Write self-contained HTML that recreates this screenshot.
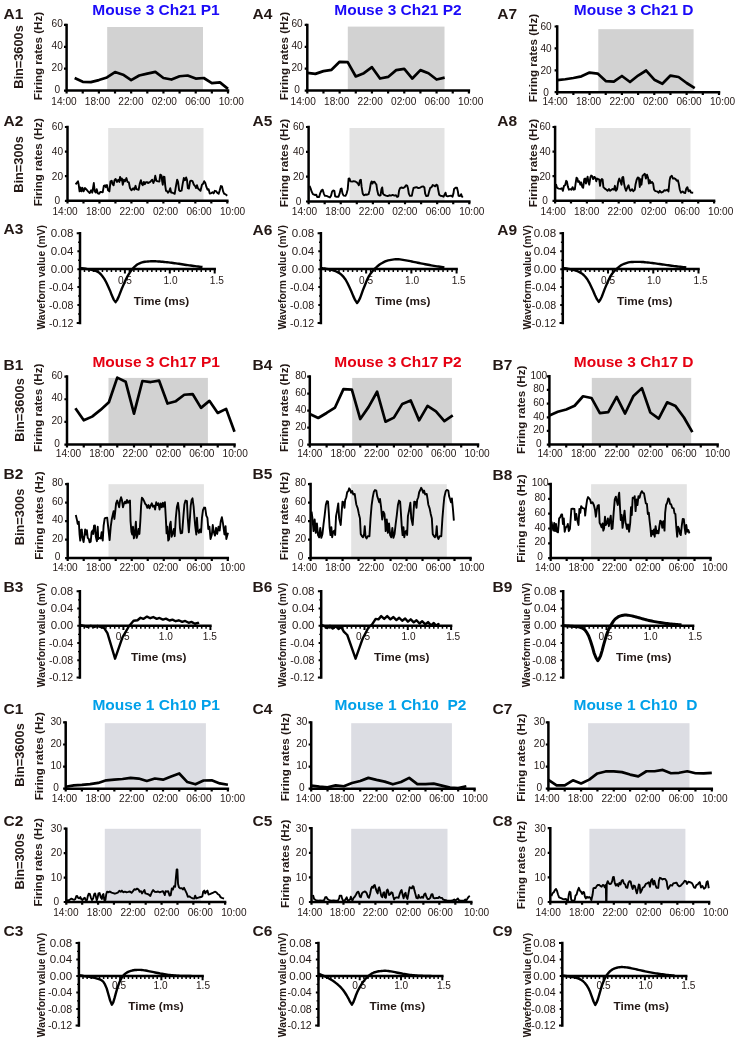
<!DOCTYPE html>
<html><head><meta charset="utf-8"><title>Figure</title>
<style>
html,body{margin:0;padding:0;background:#fff;}
body{width:737px;height:1041px;overflow:hidden;font-family:"Liberation Sans",sans-serif;}
svg{display:block;will-change:transform;font-family:"Liberation Sans",sans-serif;}
.tk{font-size:10.1px;fill:#231815;}
.yl{font-size:11.6px;font-weight:bold;fill:#231815;}
.wl{font-size:10.3px;font-weight:bold;fill:#231815;}
.tm{font-size:11.8px;font-weight:bold;fill:#231815;}
.tw{font-size:10.7px;fill:#231815;}
.bin{font-size:12.8px;font-weight:bold;fill:#231815;}
.tag{font-size:15.5px;font-weight:bold;fill:#231815;}
.ttl{font-size:15.5px;font-weight:bold;}
</style></head><body>
<svg width="737" height="1041" viewBox="0 0 737 1041">
<rect width="737" height="1041" fill="#fff"/>
<rect x="107.2" y="27" width="95.8" height="63.6" fill="#d2d2d2"/>
<path d="M66.6 24.9 V90.6 H228" fill="none" stroke="#000" stroke-width="2.5" stroke-linecap="square"/>
<text x="57.2" y="92.9" text-anchor="middle" class="tk">0</text>
<text x="57.2" y="71" text-anchor="middle" class="tk">20</text>
<text x="57.2" y="49.1" text-anchor="middle" class="tk">40</text>
<text x="57.2" y="27.2" text-anchor="middle" class="tk">60</text>
<path d="M66.6 90.6h-2.6M66.6 68.7h-2.6M66.6 46.8h-2.6M66.6 24.9h-2.6M66.6 90.6v2.8M82.74 90.6v2.8M98.88 90.6v2.8M115.02 90.6v2.8M131.16 90.6v2.8M147.3 90.6v2.8M163.44 90.6v2.8M179.58 90.6v2.8M195.72 90.6v2.8M211.86 90.6v2.8M228 90.6v2.8" fill="none" stroke="#000" stroke-width="2.2"/>
<text x="51.35" y="105.3" class="tk">14:00</text>
<text x="84.81" y="105.3" class="tk">18:00</text>
<text x="118.27" y="105.3" class="tk">22:00</text>
<text x="151.73" y="105.3" class="tk">02:00</text>
<text x="185.19" y="105.3" class="tk">06:00</text>
<text x="218.65" y="105.3" class="tk">10:00</text>
<polyline points="74.67,78.01 82.74,81.84 90.81,82.17 98.88,80.09 106.95,77.46 115.02,72.09 123.09,74.72 131.16,80.09 139.23,75.49 147.3,73.63 155.37,71.88 163.44,78.01 171.51,79.54 179.58,76.26 187.65,75.49 195.72,78.55 203.79,78.01 211.86,83.15 219.93,82.39 228,88.85" fill="none" stroke="#000" stroke-width="2.7" stroke-linejoin="round" stroke-linecap="butt"/>
<text transform="translate(41.8 56) rotate(-90)" text-anchor="middle" class="yl">Firing rates (Hz)</text>
<text transform="translate(22.5 57) rotate(-90)" text-anchor="middle" class="bin">Bin=3600s</text>
<text x="3.6" y="18.8" class="tag">A1</text>
<text x="156" y="15.3" text-anchor="middle" class="ttl" fill="#1b0af8" xml:space="preserve" style="white-space:pre">Mouse 3 Ch21 P1</text>
<rect x="347.8" y="26.6" width="96.7" height="64" fill="#d2d2d2"/>
<path d="M307.3 24.9 V90.6 H468.9" fill="none" stroke="#000" stroke-width="2.5" stroke-linecap="square"/>
<text x="297" y="92.9" text-anchor="middle" class="tk">0</text>
<text x="297" y="71" text-anchor="middle" class="tk">20</text>
<text x="297" y="49.1" text-anchor="middle" class="tk">40</text>
<text x="297" y="27.2" text-anchor="middle" class="tk">60</text>
<path d="M307.3 90.6h-2.6M307.3 68.7h-2.6M307.3 46.8h-2.6M307.3 24.9h-2.6M307.3 90.6v2.8M323.46 90.6v2.8M339.62 90.6v2.8M355.78 90.6v2.8M371.94 90.6v2.8M388.1 90.6v2.8M404.26 90.6v2.8M420.42 90.6v2.8M436.58 90.6v2.8M452.74 90.6v2.8M468.9 90.6v2.8" fill="none" stroke="#000" stroke-width="2.2"/>
<text x="290.55" y="105.3" class="tk">14:00</text>
<text x="324.05" y="105.3" class="tk">18:00</text>
<text x="357.55" y="105.3" class="tk">22:00</text>
<text x="391.05" y="105.3" class="tk">02:00</text>
<text x="424.55" y="105.3" class="tk">06:00</text>
<text x="458.05" y="105.3" class="tk">10:00</text>
<polyline points="307.3,72.86 315.38,73.85 323.46,71.11 331.54,69.8 339.62,61.8 347.7,62.13 355.78,76.47 363.86,73.19 371.94,67.17 380.02,78.55 388.1,76.91 396.18,70.12 404.26,68.81 412.34,78.55 420.42,70.12 428.5,73.19 436.58,79.54 444.66,77.57" fill="none" stroke="#000" stroke-width="2.7" stroke-linejoin="round" stroke-linecap="butt"/>
<text transform="translate(288.2 56) rotate(-90)" text-anchor="middle" class="yl">Firing rates (Hz)</text>
<text x="252.5" y="18.8" class="tag">A4</text>
<text x="398" y="14.7" text-anchor="middle" class="ttl" fill="#1b0af8" xml:space="preserve" style="white-space:pre">Mouse 3 Ch21 P2</text>
<rect x="598.3" y="29.2" width="95.3" height="63" fill="#d2d2d2"/>
<path d="M557.2 26.5 V92.2 H719" fill="none" stroke="#000" stroke-width="2.5" stroke-linecap="square"/>
<text x="546.1" y="95.5" text-anchor="middle" class="tk">0</text>
<text x="546.1" y="73.6" text-anchor="middle" class="tk">20</text>
<text x="546.1" y="51.7" text-anchor="middle" class="tk">40</text>
<text x="546.1" y="29.8" text-anchor="middle" class="tk">60</text>
<path d="M557.2 92.2h-2.6M557.2 70.3h-2.6M557.2 48.4h-2.6M557.2 26.5h-2.6M557.2 92.2v2.8M573.38 92.2v2.8M589.56 92.2v2.8M605.74 92.2v2.8M621.92 92.2v2.8M638.1 92.2v2.8M654.28 92.2v2.8M670.46 92.2v2.8M686.64 92.2v2.8M702.82 92.2v2.8M719 92.2v2.8" fill="none" stroke="#000" stroke-width="2.2"/>
<text x="542.45" y="105.3" class="tk">14:00</text>
<text x="575.95" y="105.3" class="tk">18:00</text>
<text x="609.45" y="105.3" class="tk">22:00</text>
<text x="642.95" y="105.3" class="tk">02:00</text>
<text x="676.45" y="105.3" class="tk">06:00</text>
<text x="709.95" y="105.3" class="tk">10:00</text>
<polyline points="557.2,80.05 565.29,79.28 573.38,77.97 581.47,76.32 589.56,72.6 597.65,73.59 605.74,81.03 613.83,81.69 621.92,75.99 630.01,82.02 638.1,75.56 646.19,70.52 654.28,79.72 662.37,83.77 670.46,75.56 678.55,76.98 686.64,83 694.73,88.15" fill="none" stroke="#000" stroke-width="2.7" stroke-linejoin="round" stroke-linecap="butt"/>
<text transform="translate(537 58) rotate(-90)" text-anchor="middle" class="yl">Firing rates (Hz)</text>
<text x="497.2" y="18.8" class="tag">A7</text>
<text x="633.7" y="14.7" text-anchor="middle" class="ttl" fill="#1b0af8" xml:space="preserve" style="white-space:pre">Mouse 3 Ch21 D</text>
<rect x="108.2" y="128" width="95.3" height="72.8" fill="#e3e3e3"/>
<path d="M67.5 127 V200.8 H227.3" fill="none" stroke="#000" stroke-width="2.5" stroke-linecap="square"/>
<text x="57.4" y="204.1" text-anchor="middle" class="tk">0</text>
<text x="57.4" y="179.5" text-anchor="middle" class="tk">20</text>
<text x="57.4" y="154.9" text-anchor="middle" class="tk">40</text>
<text x="57.4" y="130.3" text-anchor="middle" class="tk">60</text>
<path d="M67.5 200.8h-2.6M67.5 176.2h-2.6M67.5 151.6h-2.6M67.5 127h-2.6M67.5 200.8v2.8M83.48 200.8v2.8M99.46 200.8v2.8M115.44 200.8v2.8M131.42 200.8v2.8M147.4 200.8v2.8M163.38 200.8v2.8M179.36 200.8v2.8M195.34 200.8v2.8M211.32 200.8v2.8M227.3 200.8v2.8" fill="none" stroke="#000" stroke-width="2.2"/>
<text x="52.45" y="214.6" class="tk">14:00</text>
<text x="85.95" y="214.6" class="tk">18:00</text>
<text x="119.45" y="214.6" class="tk">22:00</text>
<text x="152.95" y="214.6" class="tk">02:00</text>
<text x="186.45" y="214.6" class="tk">06:00</text>
<text x="219.95" y="214.6" class="tk">10:00</text>
<polyline points="75.57,184.37 78.01,181.36 78.79,185.26 79.57,191.38 80.46,187.48 81.35,191.38 82.46,187.82 83.58,191.38 84.91,188.04 86.36,189.49 88.03,191.38 89.7,193.05 91.14,190.27 92.26,192.71 93.81,183.03 94.7,191.38 95.82,192.49 96.71,189.15 97.82,193.38 99.15,193.83 100.27,191.93 102.71,192.27 103.83,185.82 105.05,185.26 105.83,187.15 106.94,185.04 108.05,190.27 109.39,191.38 110.5,181.36 111.73,180.81 112.5,184.15 113.62,185.26 114.51,180.25 115.62,178.92 116.96,181.92 118.29,179.7 119.4,181.92 120.07,176.91 121.18,180.25 121.96,178.58 122.74,184.7 123.96,179.7 124.97,181.36 126.41,178.03 127.53,181.92 128.86,182.48 129.97,188.04 131.42,190.27 133.09,188.26 134.2,189.71 135.54,185.82 136.43,189.15 138.65,189.71 139.76,183.59 140.88,180.25 141.99,184.15 142.77,185.26 143.88,181.92 144.77,184.15 145.88,182.26 147.55,182.26 148,183.03 150.23,181.92 152.23,179.7 153.34,183.03 154.45,180.25 155.23,175.8 156.34,180.81 158.01,181.36 159.35,181.59 160.24,174.69 161.35,175.25 162.24,181.92 162.8,184.7 163.58,176.69 164.47,176.91 165.25,185.82 166.02,190.82 167.14,191.16 168.03,192.71 169.14,191.38 170.25,188.26 171.14,192.49 172.7,192.71 174.7,193.83 175.82,186.93 177.15,179.7 178.04,181.92 179.15,190.27 180.27,191.16 181.6,190.49 182.71,183.59 183.83,178.03 184.94,180.25 186.16,177.47 186.94,179.7 187.83,188.04 188.94,188.6 190.06,181.36 191.17,180.59 192.5,181.14 193.84,184.7 195.29,186.37 196.07,188.04 196.96,185.26 198.07,188.6 199.4,189.71 200.52,190.82 201.96,184.7 203.07,183.81 204.19,181.14 205.3,183.03 206.41,186.93 207.53,189.71 208.64,189.15 209.75,193.6 211.42,193.05 212.53,192.27 213.64,193.38 214.76,190.82 216.09,191.16 217.2,192.71 218.65,193.83 219.76,190.27 220.88,186.04 221.99,186.37 223.1,191.38 224.21,193.83 225.33,194.16 227.22,195.83" fill="none" stroke="#000" stroke-width="1.9" stroke-linejoin="round" stroke-linecap="butt"/>
<text transform="translate(41.8 162.2) rotate(-90)" text-anchor="middle" class="yl">Firing rates (Hz)</text>
<text transform="translate(22.5 164.5) rotate(-90)" text-anchor="middle" class="bin">Bin=300s</text>
<text x="3.6" y="125.7" class="tag">A2</text>
<rect x="349.5" y="128" width="95" height="73.5" fill="#e3e3e3"/>
<path d="M308.6 127 V201.5 H469.3" fill="none" stroke="#000" stroke-width="2.5" stroke-linecap="square"/>
<text x="298.5" y="204.8" text-anchor="middle" class="tk">0</text>
<text x="298.5" y="179.97" text-anchor="middle" class="tk">20</text>
<text x="298.5" y="155.13" text-anchor="middle" class="tk">40</text>
<text x="298.5" y="130.3" text-anchor="middle" class="tk">60</text>
<path d="M308.6 201.5h-2.6M308.6 176.67h-2.6M308.6 151.83h-2.6M308.6 127h-2.6M308.6 201.5v2.8M324.67 201.5v2.8M340.74 201.5v2.8M356.81 201.5v2.8M372.88 201.5v2.8M388.95 201.5v2.8M405.02 201.5v2.8M421.09 201.5v2.8M437.16 201.5v2.8M453.23 201.5v2.8M469.3 201.5v2.8" fill="none" stroke="#000" stroke-width="2.2"/>
<text x="291.85" y="214.8" class="tk">14:00</text>
<text x="325.31" y="214.8" class="tk">18:00</text>
<text x="358.77" y="214.8" class="tk">22:00</text>
<text x="392.23" y="214.8" class="tk">02:00</text>
<text x="425.69" y="214.8" class="tk">06:00</text>
<text x="459.15" y="214.8" class="tk">10:00</text>
<polyline points="309.56,185.82 310.67,188.6 311.79,191.93 312.9,194.16 314.68,194.94 316.24,194.72 317.13,196.94 319.13,196.94 320.24,193.05 321.58,190.27 322.69,189.71 323.8,193.6 324.91,195.83 326.58,195.83 328.25,196.72 329.92,197.5 331.03,195.83 332.15,191.38 333.26,190.49 334.37,190.82 335.15,196.39 336.6,196.72 338.49,196.72 339.6,193.6 340.71,188.93 341.6,188.6 342.49,193.38 343.61,195.61 345.5,195.83 346.61,193.6 347.72,189.15 348.61,178.58 349.39,178.36 350.5,181.36 352.17,181.59 353.62,181.14 354.96,181.36 356.62,182.26 357.74,183.37 358.85,185.26 359.96,180.25 360.85,179.7 361.63,186.93 362.74,193.6 363.86,195.27 365.53,194.49 367.19,194.72 368.53,194.16 369.64,190.27 370.75,183.59 371.64,181.36 372.53,183.59 373.31,181.92 374.43,181.7 375.54,183.59 376.32,184.15 377.21,190.27 378.32,194.72 379.66,195.61 380.55,195.27 381.44,189.15 382.21,187.48 382.99,193.6 383.88,194.72 385.22,195.27 386,195.61 387.67,196.05 389.34,195.27 391.01,195.61 392.68,194.94 394.34,195.61 396.01,195.27 397.13,196.94 398.24,196.39 399.13,190.27 400.24,187.82 401.58,187.48 403.25,188.04 404.69,187.15 406.03,185.26 407.14,185.59 408.03,188.6 408.81,193.6 409.92,195.83 411.81,195.83 412.7,191.38 413.59,187.82 415.15,187.48 416.6,187.15 418.27,188.04 419.93,187.82 421.6,186.71 423.27,186.37 424.39,187.48 425.16,193.6 426.28,196.05 428.06,195.83 429.17,191.38 430.28,187.82 431.62,187.15 432.73,185.04 434.07,185.59 435.18,186.37 436.29,184.7 437.4,185.26 438.29,190.27 439.18,194.72 440.52,195.83 442.19,196.05 443.63,196.72 444.75,194.16 445.53,192.71 446.3,195.83 447.75,196.39 449.42,195.83 451.09,195.61 452.53,196.72 453.42,193.6 454.09,188.93 455.54,187.82 456.99,187.82 457.88,191.38 458.54,195.83 459.99,196.05 461.1,194.16 461.88,196.39 462.77,197.5" fill="none" stroke="#000" stroke-width="1.9" stroke-linejoin="round" stroke-linecap="butt"/>
<text transform="translate(288.2 163) rotate(-90)" text-anchor="middle" class="yl">Firing rates (Hz)</text>
<text x="252.5" y="125.7" class="tag">A5</text>
<rect x="595.2" y="128" width="95.3" height="72.8" fill="#e3e3e3"/>
<path d="M555.1 127 V200.8 H714.1" fill="none" stroke="#000" stroke-width="2.5" stroke-linecap="square"/>
<text x="545" y="204.1" text-anchor="middle" class="tk">0</text>
<text x="545" y="179.5" text-anchor="middle" class="tk">20</text>
<text x="545" y="154.9" text-anchor="middle" class="tk">40</text>
<text x="545" y="130.3" text-anchor="middle" class="tk">60</text>
<path d="M555.1 200.8h-2.6M555.1 176.2h-2.6M555.1 151.6h-2.6M555.1 127h-2.6M555.1 200.8v2.8M571 200.8v2.8M586.9 200.8v2.8M602.8 200.8v2.8M618.7 200.8v2.8M634.6 200.8v2.8M650.5 200.8v2.8M666.4 200.8v2.8M682.3 200.8v2.8M698.2 200.8v2.8M714.1 200.8v2.8" fill="none" stroke="#000" stroke-width="2.2"/>
<text x="540.55" y="214.6" class="tk">14:00</text>
<text x="574.05" y="214.6" class="tk">18:00</text>
<text x="607.55" y="214.6" class="tk">22:00</text>
<text x="641.05" y="214.6" class="tk">02:00</text>
<text x="674.55" y="214.6" class="tk">06:00</text>
<text x="708.05" y="214.6" class="tk">10:00</text>
<polyline points="555.89,184.15 557.01,187.82 558.68,188.6 560.34,188.93 561.79,188.26 562.9,190.82 564.02,185.82 565.13,185.26 566.24,180.81 567.02,181.92 567.8,186.37 568.91,189.71 570.36,189.15 571.47,189.71 572.58,187.15 573.7,189.71 574.81,189.38 575.59,183.59 576.48,177.8 577.37,178.58 578.15,181.92 579.26,181.36 580.37,184.7 581.15,182.48 582.26,186.93 583.15,187.82 584.27,179.14 585.16,178.58 585.93,183.59 586.71,179.7 587.6,176.69 588.49,182.48 589.27,184.7 590.39,177.47 591.16,175.58 592.28,176.36 593.17,179.14 594.28,176.91 595.17,177.47 596.28,181.36 597.06,178.58 598.17,179.14 599.29,179.7 600.07,185.82 600.96,180.25 601.85,178.92 602.62,179.7 603.4,187.15 604.85,188.6 606.52,189.71 607.63,190.82 608.97,188.93 610.08,190.82 611.53,189.71 612.97,188.93 614.08,189.71 614.86,185.82 615.98,190.82 617.09,189.15 618.2,181.92 619.31,178.58 620.43,181.36 621.54,184.7 622.32,177.47 623.21,176.91 624.1,183.59 624.88,187.48 625.99,190.82 627.1,188.04 628.55,185.26 629.33,188.6 630.44,190.82 631.66,189.71 632,189.15 633.34,191.16 634.78,189.71 635.56,184.15 636.67,179.7 637.79,177.47 638.9,177.8 639.79,186.93 640.68,179.14 641.46,184.7 642.57,175.8 643.68,174.69 644.8,173.8 645.91,178.58 647.02,174.69 648.13,178.03 648.91,183.59 649.8,180.25 650.91,183.03 652.03,181.92 653.14,183.59 654.03,189.71 655.36,191.16 657.03,191.38 658.7,192.71 659.82,190.82 661.15,192.49 662.93,191.93 664.27,190.27 665.93,190.49 667.38,189.71 668.49,191.38 669.61,180.25 670.39,176.91 671.83,175.8 672.94,178.58 674.28,178.25 675.61,179.14 676.73,180.81 677.84,180.25 678.73,183.59 679.84,189.71 680.96,192.71 682.62,191.38 683.74,192.49 685.18,193.05 686.3,188.6 687.41,187.15 688.52,191.38 689.86,190.27 690.97,192.49 693.19,192.71" fill="none" stroke="#000" stroke-width="1.9" stroke-linejoin="round" stroke-linecap="butt"/>
<text transform="translate(537 163) rotate(-90)" text-anchor="middle" class="yl">Firing rates (Hz)</text>
<text x="497.2" y="125.7" class="tag">A8</text>
<rect x="108.5" y="377.9" width="99.4" height="66.7" fill="#d2d2d2"/>
<path d="M67 376.6 V444.6 H234.5" fill="none" stroke="#000" stroke-width="2.5" stroke-linecap="square"/>
<text x="57" y="446.7" text-anchor="middle" class="tk">0</text>
<text x="57" y="424.03" text-anchor="middle" class="tk">20</text>
<text x="57" y="401.37" text-anchor="middle" class="tk">40</text>
<text x="57" y="378.7" text-anchor="middle" class="tk">60</text>
<path d="M67 444.6h-2.6M67 421.93h-2.6M67 399.27h-2.6M67 376.6h-2.6M67 444.6v2.8M83.75 444.6v2.8M100.5 444.6v2.8M117.25 444.6v2.8M134 444.6v2.8M150.75 444.6v2.8M167.5 444.6v2.8M184.25 444.6v2.8M201 444.6v2.8M217.75 444.6v2.8M234.5 444.6v2.8" fill="none" stroke="#000" stroke-width="2.2"/>
<text x="55.85" y="457.2" class="tk">14:00</text>
<text x="89.19" y="457.2" class="tk">18:00</text>
<text x="122.53" y="457.2" class="tk">22:00</text>
<text x="155.87" y="457.2" class="tk">02:00</text>
<text x="189.21" y="457.2" class="tk">06:00</text>
<text x="222.55" y="457.2" class="tk">10:00</text>
<polyline points="75.38,408.22 83.75,420.35 92.12,416.61 100.5,409.92 108.88,402.21 117.25,377.62 125.62,381.7 134,413.66 142.38,381.02 150.75,382.04 159.12,380.68 167.5,403.57 175.88,401.19 184.25,394.73 192.62,394.05 201,407.88 209.38,400.85 217.75,412.98 226.12,408.9 234.5,431.79" fill="none" stroke="#000" stroke-width="2.7" stroke-linejoin="round" stroke-linecap="butt"/>
<text transform="translate(41.8 407.8) rotate(-90)" text-anchor="middle" class="yl">Firing rates (Hz)</text>
<text transform="translate(23.5 410) rotate(-90)" text-anchor="middle" class="bin">Bin=3600s</text>
<text x="3.6" y="370.4" class="tag">B1</text>
<text x="156.2" y="366.7" text-anchor="middle" class="ttl" fill="#e60012" xml:space="preserve" style="white-space:pre">Mouse 3 Ch17 P1</text>
<rect x="352.2" y="377.9" width="99.7" height="66.7" fill="#d2d2d2"/>
<path d="M309.8 376.6 V444.6 H478" fill="none" stroke="#000" stroke-width="2.5" stroke-linecap="square"/>
<text x="300.8" y="446.7" text-anchor="middle" class="tk">0</text>
<text x="300.8" y="429.7" text-anchor="middle" class="tk">20</text>
<text x="300.8" y="412.7" text-anchor="middle" class="tk">40</text>
<text x="300.8" y="395.7" text-anchor="middle" class="tk">60</text>
<text x="300.8" y="378.7" text-anchor="middle" class="tk">80</text>
<path d="M309.8 444.6h-2.6M309.8 427.6h-2.6M309.8 410.6h-2.6M309.8 393.6h-2.6M309.8 376.6h-2.6M309.8 444.6v2.8M326.62 444.6v2.8M343.44 444.6v2.8M360.26 444.6v2.8M377.08 444.6v2.8M393.9 444.6v2.8M410.72 444.6v2.8M427.54 444.6v2.8M444.36 444.6v2.8M461.18 444.6v2.8M478 444.6v2.8" fill="none" stroke="#000" stroke-width="2.2"/>
<text x="297.15" y="457.2" class="tk">14:00</text>
<text x="330.61" y="457.2" class="tk">18:00</text>
<text x="364.07" y="457.2" class="tk">22:00</text>
<text x="397.53" y="457.2" class="tk">02:00</text>
<text x="430.99" y="457.2" class="tk">06:00</text>
<text x="464.45" y="457.2" class="tk">10:00</text>
<polyline points="309.8,414 318.21,418 326.62,412.98 335.03,407.54 343.44,389.1 351.85,389.69 360.26,419.02 368.67,406.86 377.08,391.73 385.49,421.74 393.9,417.66 402.31,403.89 410.72,400.49 419.13,420.38 427.54,405.93 435.95,411.28 444.36,421.06 452.77,415.28" fill="none" stroke="#000" stroke-width="2.7" stroke-linejoin="round" stroke-linecap="butt"/>
<text transform="translate(288.2 407.8) rotate(-90)" text-anchor="middle" class="yl">Firing rates (Hz)</text>
<text x="252.5" y="370.4" class="tag">B4</text>
<text x="398" y="366.7" text-anchor="middle" class="ttl" fill="#e60012" xml:space="preserve" style="white-space:pre">Mouse 3 Ch17 P2</text>
<rect x="591.8" y="377.9" width="99.4" height="66.7" fill="#d2d2d2"/>
<path d="M549.4 376.3 V444.6 H717.6" fill="none" stroke="#000" stroke-width="2.5" stroke-linecap="square"/>
<text x="538.8" y="447.1" text-anchor="middle" class="tk">0</text>
<text x="538.8" y="433.44" text-anchor="middle" class="tk">20</text>
<text x="538.8" y="419.78" text-anchor="middle" class="tk">40</text>
<text x="538.8" y="406.12" text-anchor="middle" class="tk">60</text>
<text x="538.8" y="392.46" text-anchor="middle" class="tk">80</text>
<text x="538.8" y="378.8" text-anchor="middle" class="tk">100</text>
<path d="M549.4 444.6h-2.6M549.4 430.94h-2.6M549.4 417.28h-2.6M549.4 403.62h-2.6M549.4 389.96h-2.6M549.4 376.3h-2.6M549.4 444.6v2.8M566.22 444.6v2.8M583.04 444.6v2.8M599.86 444.6v2.8M616.68 444.6v2.8M633.5 444.6v2.8M650.32 444.6v2.8M667.14 444.6v2.8M683.96 444.6v2.8M700.78 444.6v2.8M717.6 444.6v2.8" fill="none" stroke="#000" stroke-width="2.2"/>
<text x="537.45" y="457.2" class="tk">14:00</text>
<text x="570.95" y="457.2" class="tk">18:00</text>
<text x="604.45" y="457.2" class="tk">22:00</text>
<text x="637.95" y="457.2" class="tk">02:00</text>
<text x="671.45" y="457.2" class="tk">06:00</text>
<text x="704.95" y="457.2" class="tk">10:00</text>
<polyline points="549.4,415.5 557.81,411.82 566.22,409.43 574.63,405.74 583.04,396.24 591.45,397.95 599.86,413.18 608.27,412.16 616.68,396.93 625.09,413.52 633.5,395.9 641.91,388.12 650.32,412.5 658.73,418.58 667.14,402.32 675.55,406.08 683.96,417.55 692.37,432.1" fill="none" stroke="#000" stroke-width="2.7" stroke-linejoin="round" stroke-linecap="butt"/>
<text transform="translate(525.3 409.8) rotate(-90)" text-anchor="middle" class="yl">Firing rates (Hz)</text>
<text x="492.5" y="370.4" class="tag">B7</text>
<text x="633.7" y="366.7" text-anchor="middle" class="ttl" fill="#e60012" xml:space="preserve" style="white-space:pre">Mouse 3 Ch17 D</text>
<rect x="108.5" y="484.2" width="95.4" height="73.9" fill="#e3e3e3"/>
<path d="M67.7 484.1 V558.1 H227.8" fill="none" stroke="#000" stroke-width="2.5" stroke-linecap="square"/>
<text x="57.6" y="560.1" text-anchor="middle" class="tk">0</text>
<text x="57.6" y="541.6" text-anchor="middle" class="tk">20</text>
<text x="57.6" y="523.1" text-anchor="middle" class="tk">40</text>
<text x="57.6" y="504.6" text-anchor="middle" class="tk">60</text>
<text x="57.6" y="486.1" text-anchor="middle" class="tk">80</text>
<path d="M67.7 558.1h-2.6M67.7 539.6h-2.6M67.7 521.1h-2.6M67.7 502.6h-2.6M67.7 484.1h-2.6M67.7 558.1v2.8M83.71 558.1v2.8M99.72 558.1v2.8M115.73 558.1v2.8M131.74 558.1v2.8M147.75 558.1v2.8M163.76 558.1v2.8M179.77 558.1v2.8M195.78 558.1v2.8M211.79 558.1v2.8M227.8 558.1v2.8" fill="none" stroke="#000" stroke-width="2.2"/>
<text x="52.45" y="571" class="tk">14:00</text>
<text x="85.95" y="571" class="tk">18:00</text>
<text x="119.45" y="571" class="tk">22:00</text>
<text x="152.95" y="571" class="tk">02:00</text>
<text x="186.45" y="571" class="tk">06:00</text>
<text x="219.95" y="571" class="tk">10:00</text>
<polyline points="75.79,515.03 77.13,520.6 77.68,523.93 78.8,521.71 79.57,534.5 80.24,540.62 81.02,530.05 81.8,529.5 82.47,537.84 83.58,542.07 84.36,536.73 85.14,529.5 86.03,534.5 86.92,530.28 87.7,537.84 88.81,538.96 89.59,542.29 90.7,541.74 91.59,532.28 92.48,530.61 93.26,533.95 94.04,525.6 94.93,525.38 95.82,536.73 96.93,541.18 97.71,526.72 98.27,538.96 99.38,537.84 100.71,538.4 101.6,532.28 102.72,540.62 103.61,525.6 104.72,518.37 105.83,517.82 107.17,517.59 108.28,527.83 109.61,540.07 110.73,526.72 111.84,518.93 112.95,513.92 113.62,511.14 114.4,518.93 115.18,512.25 116.07,503.35 117.18,500.57 118.07,503.35 119.18,507.25 119.96,501.13 121.07,497.23 121.96,500.01 122.97,507.25 123.86,503.91 124.97,501.68 125.86,503.35 126.97,500.01 128.08,502.8 129.2,501.13 129.98,500.57 130.53,521.15 131.42,531.72 132.2,534.5 132.98,526.72 133.87,538.4 134.76,534.5 135.87,521.71 136.65,537.84 137.76,534.5 138.54,528.94 139.43,533.95 140.32,521.15 141.1,505.58 141.88,497.79 142.99,498.9 144.11,501.13 145.22,503.91 146,504.46 147.34,507.8 148.45,505.02 149.56,508.36 150.67,505.58 151.79,503.35 152.9,506.69 154.01,505.58 155.12,509.47 156.24,502.24 157.35,505.02 158.46,503.35 159.57,509.47 160.69,503.35 161.8,507.25 162.91,502.8 163.8,506.69 164.91,502.24 165.8,517.82 166.58,533.39 167.36,526.72 168.25,540.62 169.14,538.96 169.92,524.49 170.7,521.71 171.59,536.73 172.7,533.39 173.82,528.94 174.71,536.17 175.82,517.82 176.93,506.69 178.04,502.8 179.16,512.25 179.93,527.83 180.71,533.39 182.16,532.84 183.27,517.82 184.39,504.46 185.5,500.57 186.94,501.13 187.72,517.82 188.84,532.28 189.95,517.82 190.73,505.58 191.62,500.01 192.51,498.34 193.62,506.69 194.51,517.82 195.18,525.6 196.29,534.5 196.96,517.82 197.74,530.05 198.85,532.84 199.96,529.5 201.07,532.28 201.96,517.82 202.97,510.03 204.08,507.58 205.19,507.8 206.3,515.59 207.42,517.82 208.31,528.94 209.42,526.72 210.53,538.96 211.87,534.5 212.76,525.05 213.87,532.28 214.98,535.62 216.09,527.83 217.21,533.95 218.54,526.72 219.66,530.61 220.77,521.15 221.88,517.26 222.99,523.38 224.44,534.5 225.55,526.16 226.33,538.96 228,532.84" fill="none" stroke="#000" stroke-width="1.9" stroke-linejoin="round" stroke-linecap="butt"/>
<text transform="translate(42.5 515.6) rotate(-90)" text-anchor="middle" class="yl">Firing rates (Hz)</text>
<text transform="translate(23.5 517) rotate(-90)" text-anchor="middle" class="bin">Bin=300s</text>
<text x="3.6" y="479.2" class="tag">B2</text>
<rect x="351.2" y="484.2" width="95.6" height="73.9" fill="#e3e3e3"/>
<path d="M310.6 484.1 V558.1 H470.5" fill="none" stroke="#000" stroke-width="2.5" stroke-linecap="square"/>
<text x="300.5" y="560.1" text-anchor="middle" class="tk">0</text>
<text x="300.5" y="541.6" text-anchor="middle" class="tk">20</text>
<text x="300.5" y="523.1" text-anchor="middle" class="tk">40</text>
<text x="300.5" y="504.6" text-anchor="middle" class="tk">60</text>
<text x="300.5" y="486.1" text-anchor="middle" class="tk">80</text>
<path d="M310.6 558.1h-2.6M310.6 539.6h-2.6M310.6 521.1h-2.6M310.6 502.6h-2.6M310.6 484.1h-2.6M310.6 558.1v2.8M326.59 558.1v2.8M342.58 558.1v2.8M358.57 558.1v2.8M374.56 558.1v2.8M390.55 558.1v2.8M406.54 558.1v2.8M422.53 558.1v2.8M438.52 558.1v2.8M454.51 558.1v2.8M470.5 558.1v2.8" fill="none" stroke="#000" stroke-width="2.2"/>
<text x="291.85" y="571" class="tk">14:00</text>
<text x="325.31" y="571" class="tk">18:00</text>
<text x="358.77" y="571" class="tk">22:00</text>
<text x="392.23" y="571" class="tk">02:00</text>
<text x="425.69" y="571" class="tk">06:00</text>
<text x="459.15" y="571" class="tk">10:00</text>
<polyline points="311.56,511.7 312.45,518.38 313.57,531.17 314.68,519.49 315.79,532.84 316.9,523.39 318.02,535.07 319.13,537.29 320.24,527.84 321.35,537.85 322.47,533.96 323.58,523.94 324.69,515.04 325.8,505.03 326.92,501.13 328.03,501.69 328.81,512.82 329.59,527.28 330.48,535.07 331.37,527.28 332.15,537.29 333.26,531.73 334.37,530.62 335.15,535.07 336.04,516.15 337.15,510.59 338.27,503.36 339.16,518.38 340.71,525.05 341.6,512.82 342.49,501.69 343.61,502.25 344.5,507.81 345.16,500.02 346.28,497.24 347.17,492.23 348.28,491.12 349.17,488.34 350.28,490.01 351.06,492.79 352.17,491.12 353.29,494.46 354.73,493.9 355.51,499.46 356.29,504.47 357.74,508.36 358.85,513.93 359.96,518.38 360.74,533.96 361.85,536.18 362.97,537.29 364.08,533.96 364.75,526.17 365.53,536.74 366.64,538.41 367.75,536.18 369.42,536.18 370.53,518.38 371.64,505.03 372.76,497.24 373.87,491.68 374.98,490.01 376.32,490.56 377.21,496.13 378.32,499.46 379.21,502.25 379.99,498.91 381.1,507.25 382.21,519.49 383.33,511.7 384.44,513.93 385.22,522.83 385.67,531.17 386.78,519.49 387.89,532.84 389.01,523.39 390.12,535.07 391.23,537.29 392.34,527.84 393.46,537.85 394.57,533.96 395.68,523.94 396.8,515.04 397.91,505.03 399.02,500.58 400.13,501.69 400.91,512.82 401.8,527.28 402.58,535.07 403.47,527.28 404.25,537.29 405.36,531.73 406.47,530.62 407.14,535.07 407.92,516.15 409.03,510.59 410.37,502.8 411.26,518.38 412.71,525.05 413.48,512.82 414.26,501.69 415.6,502.25 416.49,507.81 417.16,500.02 418.27,497.24 419.16,492.23 420.27,490.01 421.16,487.78 422.27,490.01 423.16,492.79 424.05,490.56 425.17,494.46 426.72,493.9 427.61,499.46 428.28,504.47 429.62,508.36 430.73,513.93 431.84,518.38 432.73,533.96 433.85,536.18 434.96,537.29 436.07,533.96 436.74,526.17 437.41,536.74 438.52,538.96 439.63,536.18 441.3,536.18 442.41,518.38 443.53,505.03 444.3,497.24 445.75,491.12 446.86,490.01 448.31,490.56 449.09,496.13 450.2,499.46 450.98,502.25 451.87,498.35 452.98,509.48 453.87,520.6" fill="none" stroke="#000" stroke-width="1.9" stroke-linejoin="round" stroke-linecap="butt"/>
<text transform="translate(288.2 516) rotate(-90)" text-anchor="middle" class="yl">Firing rates (Hz)</text>
<text x="252.5" y="479.2" class="tag">B5</text>
<rect x="591.1" y="484.2" width="95.7" height="73.9" fill="#e3e3e3"/>
<path d="M550.7 484.1 V558.1 H710.5" fill="none" stroke="#000" stroke-width="2.5" stroke-linecap="square"/>
<text x="540.1" y="560.1" text-anchor="middle" class="tk">0</text>
<text x="540.1" y="545.3" text-anchor="middle" class="tk">20</text>
<text x="540.1" y="530.5" text-anchor="middle" class="tk">40</text>
<text x="540.1" y="515.7" text-anchor="middle" class="tk">60</text>
<text x="540.1" y="500.9" text-anchor="middle" class="tk">80</text>
<text x="540.1" y="486.1" text-anchor="middle" class="tk">100</text>
<path d="M550.7 558.1h-2.6M550.7 543.3h-2.6M550.7 528.5h-2.6M550.7 513.7h-2.6M550.7 498.9h-2.6M550.7 484.1h-2.6M550.7 558.1v2.8M566.68 558.1v2.8M582.66 558.1v2.8M598.64 558.1v2.8M614.62 558.1v2.8M630.6 558.1v2.8M646.58 558.1v2.8M662.56 558.1v2.8M678.54 558.1v2.8M694.52 558.1v2.8M710.5 558.1v2.8" fill="none" stroke="#000" stroke-width="2.2"/>
<text x="535.05" y="571" class="tk">14:00</text>
<text x="568.49" y="571" class="tk">18:00</text>
<text x="601.93" y="571" class="tk">22:00</text>
<text x="635.37" y="571" class="tk">02:00</text>
<text x="668.81" y="571" class="tk">06:00</text>
<text x="702.25" y="571" class="tk">10:00</text>
<polyline points="551.56,521.72 552.45,527.28 553.34,530.62 554.23,522.83 555.12,531.17 556.01,523.94 556.9,531.73 558.02,532.29 559.13,518.38 560.24,517.27 561.35,514.48 562.13,514.48 562.91,523.94 563.8,518.38 564.69,531.73 565.8,527.28 566.92,526.72 567.81,523.94 568.81,531.17 569.92,528.95 570.7,518.38 571.37,508.92 572.7,508.59 574.37,508.92 575.15,520.05 576.26,513.93 577.38,520.6 578.49,525.05 579.38,508.92 580.27,512.82 581.16,506.14 582.27,507.81 583.61,508.36 584.72,508.92 585.16,515.6 586.05,507.25 587.17,499.46 588.06,497.02 589.17,498.35 590.28,500.02 591.06,503.36 592.51,502.25 593.84,505.03 594.96,509.48 595.85,516.71 596.96,508.92 597.74,505.58 598.85,505.03 599.63,522.83 600.74,525.05 601.63,527.28 602.52,523.39 603.3,530.62 604.08,528.39 604.97,516.71 605.86,525.05 606.97,522.83 607.86,518.38 608.86,526.17 609.98,519.49 610.75,515.6 611.64,528.95 612.53,528.39 613.65,512.82 614.76,499.46 615.87,496.68 616.65,500.58 617.76,505.03 618.54,496.13 619.21,492.79 619.99,507.25 620.77,520.05 621.66,515.04 622.55,527.84 623.66,517.82 624.55,510.59 625.55,522.83 626,523.94 626.89,528.95 628,524.5 629.12,531.73 630.23,522.83 631.01,507.25 631.79,515.04 632.68,497.8 633.79,498.35 634.68,496.13 635.57,511.15 636.57,499.46 637.46,505.03 638.46,496.13 639.57,497.8 640.69,493.34 641.8,491.12 642.91,492.79 644.02,493.34 644.91,498.35 645.8,503.36 646.92,503.91 647.81,513.93 648.81,512.82 649.59,520.6 650.48,528.39 651.15,536.18 652.15,530.62 653.26,534.51 654.04,529.5 654.71,536.74 655.6,526.17 656.6,533.4 657.71,530.62 658.49,533.4 659.38,526.17 660.27,520.6 661.38,521.72 662.27,527.84 663.38,521.16 664.5,530.62 665.16,512.82 666.05,505.03 667.17,502.8 668.28,498.35 669.17,499.46 670.06,503.91 671.17,504.47 672.17,507.81 673.62,508.36 674.51,513.37 675.4,513.93 676.29,527.28 677.18,536.74 678.07,526.72 678.96,528.39 680.07,533.96 680.74,535.07 681.85,525.05 682.74,518.93 683.86,519.27 684.75,528.39 685.53,533.96 686.3,525.05 687.19,531.73 688.31,530.06 689.42,533.4" fill="none" stroke="#000" stroke-width="1.9" stroke-linejoin="round" stroke-linecap="butt"/>
<text transform="translate(525.3 518.6) rotate(-90)" text-anchor="middle" class="yl">Firing rates (Hz)</text>
<text x="492.5" y="480.4" class="tag">B8</text>
<rect x="104.8" y="723.2" width="101.1" height="65.5" fill="#dcdde3"/>
<path d="M65.7 722.4 V788.7 H227.9" fill="none" stroke="#000" stroke-width="2.5" stroke-linecap="square"/>
<text x="56" y="791.4" text-anchor="middle" class="tk">0</text>
<text x="56" y="769.3" text-anchor="middle" class="tk">10</text>
<text x="56" y="747.2" text-anchor="middle" class="tk">20</text>
<text x="56" y="725.1" text-anchor="middle" class="tk">30</text>
<path d="M65.7 788.7h-2.6M65.7 766.6h-2.6M65.7 744.5h-2.6M65.7 722.4h-2.6M65.7 788.7v2.8M81.92 788.7v2.8M98.14 788.7v2.8M114.36 788.7v2.8M130.58 788.7v2.8M146.8 788.7v2.8M163.02 788.7v2.8M179.24 788.7v2.8M195.46 788.7v2.8M211.68 788.7v2.8M227.9 788.7v2.8" fill="none" stroke="#000" stroke-width="2.2"/>
<text x="51.85" y="802.3" class="tk">14:00</text>
<text x="85.47" y="802.3" class="tk">18:00</text>
<text x="119.09" y="802.3" class="tk">22:00</text>
<text x="152.71" y="802.3" class="tk">02:00</text>
<text x="186.33" y="802.3" class="tk">06:00</text>
<text x="219.95" y="802.3" class="tk">10:00</text>
<polyline points="65.7,786.71 73.81,785.38 81.92,784.94 90.03,784.06 98.14,782.95 106.25,780.3 114.36,779.64 122.47,778.98 130.58,777.87 138.69,778.53 146.8,780.97 154.91,778.53 163.02,779.64 171.13,776.55 179.24,773.45 187.35,782.07 195.46,784.28 203.57,780.52 211.68,780.3 219.79,783.4 227.9,784.72" fill="none" stroke="#000" stroke-width="2.7" stroke-linejoin="round" stroke-linecap="butt"/>
<text transform="translate(43.1 756.2) rotate(-90)" text-anchor="middle" class="yl">Firing rates (Hz)</text>
<text transform="translate(23.5 755) rotate(-90)" text-anchor="middle" class="bin">Bin=3600s</text>
<text x="3.6" y="713.8" class="tag">C1</text>
<text x="156.2" y="710.3" text-anchor="middle" class="ttl" fill="#00a0e9" xml:space="preserve" style="white-space:pre">Mouse 1 Ch10 P1</text>
<rect x="351.2" y="723.2" width="100.7" height="65.5" fill="#dcdde3"/>
<path d="M311.2 722.4 V788.7 H474.5" fill="none" stroke="#000" stroke-width="2.5" stroke-linecap="square"/>
<text x="301.8" y="791.4" text-anchor="middle" class="tk">0</text>
<text x="301.8" y="769.3" text-anchor="middle" class="tk">10</text>
<text x="301.8" y="747.2" text-anchor="middle" class="tk">20</text>
<text x="301.8" y="725.1" text-anchor="middle" class="tk">30</text>
<path d="M311.2 788.7h-2.6M311.2 766.6h-2.6M311.2 744.5h-2.6M311.2 722.4h-2.6M311.2 788.7v2.8M327.53 788.7v2.8M343.86 788.7v2.8M360.19 788.7v2.8M376.52 788.7v2.8M392.85 788.7v2.8M409.18 788.7v2.8M425.51 788.7v2.8M441.84 788.7v2.8M458.17 788.7v2.8M474.5 788.7v2.8" fill="none" stroke="#000" stroke-width="2.2"/>
<text x="295.85" y="802.3" class="tk">14:00</text>
<text x="329.19" y="802.3" class="tk">18:00</text>
<text x="362.53" y="802.3" class="tk">22:00</text>
<text x="395.87" y="802.3" class="tk">02:00</text>
<text x="429.21" y="802.3" class="tk">06:00</text>
<text x="462.55" y="802.3" class="tk">10:00</text>
<polyline points="311.2,785.61 319.37,786.71 327.53,787.37 335.69,785.38 343.86,786.27 352.02,782.95 360.19,780.97 368.36,777.87 376.52,779.86 384.69,781.63 392.85,784.28 401.01,782.07 409.18,777.87 417.35,784.06 425.51,784.06 433.68,783.62 441.84,785.61 450,787.6 458.17,788.04 466.34,786.27" fill="none" stroke="#000" stroke-width="2.7" stroke-linejoin="round" stroke-linecap="butt"/>
<text transform="translate(289.2 757.2) rotate(-90)" text-anchor="middle" class="yl">Firing rates (Hz)</text>
<text x="252.5" y="713.8" class="tag">C4</text>
<text x="400.5" y="710.3" text-anchor="middle" class="ttl" fill="#00a0e9" xml:space="preserve" style="white-space:pre">Mouse 1 Ch10  P2</text>
<rect x="588.1" y="723.2" width="101.4" height="65.5" fill="#dcdde3"/>
<path d="M548.4 722.4 V788.7 H711.8" fill="none" stroke="#000" stroke-width="2.5" stroke-linecap="square"/>
<text x="539.4" y="791.4" text-anchor="middle" class="tk">0</text>
<text x="539.4" y="769.3" text-anchor="middle" class="tk">10</text>
<text x="539.4" y="747.2" text-anchor="middle" class="tk">20</text>
<text x="539.4" y="725.1" text-anchor="middle" class="tk">30</text>
<path d="M548.4 788.7h-2.6M548.4 766.6h-2.6M548.4 744.5h-2.6M548.4 722.4h-2.6M548.4 788.7v2.8M564.74 788.7v2.8M581.08 788.7v2.8M597.42 788.7v2.8M613.76 788.7v2.8M630.1 788.7v2.8M646.44 788.7v2.8M662.78 788.7v2.8M679.12 788.7v2.8M695.46 788.7v2.8M711.8 788.7v2.8" fill="none" stroke="#000" stroke-width="2.2"/>
<text x="534.25" y="802.3" class="tk">14:00</text>
<text x="567.85" y="802.3" class="tk">18:00</text>
<text x="601.45" y="802.3" class="tk">22:00</text>
<text x="635.05" y="802.3" class="tk">02:00</text>
<text x="668.65" y="802.3" class="tk">06:00</text>
<text x="702.25" y="802.3" class="tk">10:00</text>
<polyline points="548.4,779.86 556.57,785.38 564.74,785.38 572.91,780.3 581.08,783.4 589.25,779.64 597.42,773.45 605.59,771.46 613.76,771.46 621.93,772.12 630.1,774.56 638.27,776.32 646.44,771.24 654.61,771.24 662.78,769.92 670.95,773.23 679.12,772.79 687.29,771.24 695.46,773.23 703.63,773.45 711.8,772.79" fill="none" stroke="#000" stroke-width="2.7" stroke-linejoin="round" stroke-linecap="butt"/>
<text transform="translate(525 757.7) rotate(-90)" text-anchor="middle" class="yl">Firing rates (Hz)</text>
<text x="492.5" y="714.3" class="tag">C7</text>
<text x="635.5" y="710.3" text-anchor="middle" class="ttl" fill="#00a0e9" xml:space="preserve" style="white-space:pre">Mouse 1 Ch10  D</text>
<rect x="104.8" y="828.8" width="96" height="73.2" fill="#dcdde3"/>
<path d="M66.3 828.7 V902 H225.1" fill="none" stroke="#000" stroke-width="2.5" stroke-linecap="square"/>
<text x="56.4" y="905.3" text-anchor="middle" class="tk">0</text>
<text x="56.4" y="880.87" text-anchor="middle" class="tk">10</text>
<text x="56.4" y="856.43" text-anchor="middle" class="tk">20</text>
<text x="56.4" y="832" text-anchor="middle" class="tk">30</text>
<path d="M66.3 902h-2.6M66.3 877.57h-2.6M66.3 853.13h-2.6M66.3 828.7h-2.6M66.3 902v2.8M82.18 902v2.8M98.06 902v2.8M113.94 902v2.8M129.82 902v2.8M145.7 902v2.8M161.58 902v2.8M177.46 902v2.8M193.34 902v2.8M209.22 902v2.8M225.1 902v2.8" fill="none" stroke="#000" stroke-width="2.2"/>
<text x="53.25" y="916.1" class="tk">14:00</text>
<text x="86.85" y="916.1" class="tk">18:00</text>
<text x="120.45" y="916.1" class="tk">22:00</text>
<text x="154.05" y="916.1" class="tk">02:00</text>
<text x="187.65" y="916.1" class="tk">06:00</text>
<text x="221.25" y="916.1" class="tk">10:00</text>
<polyline points="67.01,900.06 68.68,900.39 70.01,899.5 71.46,898.61 72.9,899.28 74.24,899.73 75.35,898.95 76.24,896.17 77.13,895.94 78.13,897.84 79.25,898.39 80.36,897.06 81.47,899.5 82.58,900.06 83.7,898.39 84.81,897.84 85.59,900.06 87.03,900.06 87.81,896.17 88.7,893.72 89.82,893.94 90.93,897.84 92.04,900.06 93.15,898.39 94.27,893.94 95.16,893.39 96.05,897.28 96.71,900.39 97.6,897.84 98.49,893.39 99.61,893.05 100.72,897.28 101.83,898.95 102.61,895.05 103.39,893.94 104.28,900.06 105.39,900.06 106.28,893.94 107.06,891.72 108.73,892.27 109.84,891.49 111.51,892.61 113.18,893.05 114.85,893.72 116.52,893.05 118.19,892.27 119.3,890.83 120.75,891.72 121.86,890.6 123.19,892.27 124.86,891.72 126.53,892.27 128.2,891.94 129.87,891.49 131.54,892.83 132.99,891.16 134.32,889.27 135.66,889.71 137.1,888.6 138.55,889.49 139.66,891.72 141,891.16 142,893.39 143.11,891.72 144.45,890.05 145.34,893.39 147.01,893.94 148.68,894.5 150.34,895.94 151.79,892.27 153.13,890.05 154.8,891.72 156.46,891.94 158.13,891.49 159.8,892.27 161.47,891.72 162.92,891.16 164.03,893.39 164.81,895.05 165.59,891.16 167.03,891.72 168.15,891.16 169.59,895.61 170.71,895.05 171.82,888.38 172.93,889.49 174.04,886.15 175.16,886.71 175.93,877.25 176.71,869.46 177.38,869.46 178.05,883.93 178.94,887.27 180.39,888.38 181.83,888.16 182.94,889.49 184.06,887.82 185.39,890.6 186.73,893.39 187.84,896.72 189.29,896.39 190.96,897.5 192.62,898.39 194.07,898.61 195.18,895.61 196.3,898.39 197.63,897.84 199.3,897.28 200.97,897.06 202.3,896.39 203.19,891.72 204.31,890.6 205.2,893.39 206.31,891.72 207.42,890.6 208.53,894.5 209.87,894.16 211.54,893.39 213.21,892.61 214.88,891.72 216.32,892.27 217.66,893.94 219.33,895.05 220.44,897.06 221.89,897.84 224,898.61" fill="none" stroke="#000" stroke-width="1.9" stroke-linejoin="round" stroke-linecap="butt"/>
<text transform="translate(41.8 862.3) rotate(-90)" text-anchor="middle" class="yl">Firing rates (Hz)</text>
<text transform="translate(23.5 861.3) rotate(-90)" text-anchor="middle" class="bin">Bin=300s</text>
<text x="3.6" y="826" class="tag">C2</text>
<rect x="351.2" y="828.8" width="96.3" height="73.2" fill="#dcdde3"/>
<path d="M311.5 828.2 V902 H471.3" fill="none" stroke="#000" stroke-width="2.5" stroke-linecap="square"/>
<text x="301.4" y="905.3" text-anchor="middle" class="tk">0</text>
<text x="301.4" y="880.7" text-anchor="middle" class="tk">10</text>
<text x="301.4" y="856.1" text-anchor="middle" class="tk">20</text>
<text x="301.4" y="831.5" text-anchor="middle" class="tk">30</text>
<path d="M311.5 902h-2.6M311.5 877.4h-2.6M311.5 852.8h-2.6M311.5 828.2h-2.6M311.5 902v2.8M327.48 902v2.8M343.46 902v2.8M359.44 902v2.8M375.42 902v2.8M391.4 902v2.8M407.38 902v2.8M423.36 902v2.8M439.34 902v2.8M455.32 902v2.8M471.3 902v2.8" fill="none" stroke="#000" stroke-width="2.2"/>
<text x="297.15" y="916.1" class="tk">14:00</text>
<text x="329.75" y="916.1" class="tk">18:00</text>
<text x="362.85" y="916.1" class="tk">22:00</text>
<text x="395.85" y="916.1" class="tk">02:00</text>
<text x="427.65" y="916.1" class="tk">06:00</text>
<text x="463.95" y="916.1" class="tk">10:00</text>
<polyline points="313.01,895.05 314.12,898.95 315.79,900.06 318.01,900.62 320.24,900.39 322.46,900.62 324.13,900.06 325.25,897.28 326.36,897.06 327.47,898.95 329.14,900.06 331.36,900.62 333.59,900.39 335.82,900.62 338.04,900.39 339.15,898.39 339.71,895.61 341.38,895.61 342.05,898.39 343.05,900.62 344.72,900.39 345.83,898.95 346.72,897.28 347.5,900.06 348.61,900.39 350.06,899.5 350.84,896.72 351.61,899.5 352.5,900.39 353.62,897.84 354.73,896.72 356.07,894.5 357.18,892.27 358.29,891.72 359.18,893.94 359.85,896.72 360.85,897.28 361.96,893.39 363.07,892.27 364.52,891.49 365.63,891.72 366.75,893.39 367.86,896.72 368.97,897.84 370.08,893.94 371.2,888.38 372.09,886.71 373.09,887.82 373.87,885.6 374.76,885.04 375.65,888.38 376.76,891.72 377.65,893.39 378.54,888.38 379.21,887.27 380.1,890.6 381.21,895.61 382.32,897.28 383.44,892.83 384.21,892.27 384.99,897.28 385.88,897.84 386.77,890.6 387.55,889.49 388,890.6 389.11,895.05 390.45,893.94 391.34,892.27 392.45,892.83 393.34,896.72 394.12,899.5 395.23,897.84 396.9,897.28 398.57,897.84 399.68,893.94 400.8,891.16 401.57,890.05 402.46,893.94 403.58,898.39 404.69,893.94 405.58,892.83 406.36,896.72 407.47,898.95 408.58,892.83 409.7,887.27 410.81,887.82 411.92,888.38 412.7,886.15 413.59,886.71 414.48,890.6 415.26,893.39 416.37,897.84 417.82,898.39 418.6,895.05 419.38,897.28 420.82,897.84 421.93,896.72 423.05,897.84 424.16,894.5 425.27,893.39 426.39,896.72 427.5,898.95 429.17,898.95 430.28,897.84 431.39,894.5 432.5,894.16 433.39,897.84 434.73,898.39 436.4,897.84 438.07,898.17 439.18,896.72 440.29,897.84 441.96,897.84 443.07,899.5 444.74,900.06 446.97,900.39 449.19,900.62 451.42,900.62 453.09,900.06 454.2,899.5 455.31,900.62 456.76,899.5 457.87,898.39 458.76,900.06 460.32,900.62 462.55,900.62 464.21,900.39 465.33,899.5 466.44,900.39 467.55,898.39 468.66,896.72 470,896.17" fill="none" stroke="#000" stroke-width="1.9" stroke-linejoin="round" stroke-linecap="butt"/>
<text transform="translate(289.2 863.8) rotate(-90)" text-anchor="middle" class="yl">Firing rates (Hz)</text>
<text x="252.5" y="826" class="tag">C5</text>
<rect x="589.4" y="828.8" width="96" height="73.2" fill="#dcdde3"/>
<path d="M550.3 828.2 V902 H709.1" fill="none" stroke="#000" stroke-width="2.5" stroke-linecap="square"/>
<text x="540.2" y="905.3" text-anchor="middle" class="tk">0</text>
<text x="540.2" y="880.7" text-anchor="middle" class="tk">10</text>
<text x="540.2" y="856.1" text-anchor="middle" class="tk">20</text>
<text x="540.2" y="831.5" text-anchor="middle" class="tk">30</text>
<path d="M550.3 902h-2.6M550.3 877.4h-2.6M550.3 852.8h-2.6M550.3 828.2h-2.6M550.3 902v2.8M566.18 902v2.8M582.06 902v2.8M597.94 902v2.8M613.82 902v2.8M629.7 902v2.8M645.58 902v2.8M661.46 902v2.8M677.34 902v2.8M693.22 902v2.8M709.1 902v2.8" fill="none" stroke="#000" stroke-width="2.2"/>
<text x="535.55" y="916.1" class="tk">14:00</text>
<text x="569.05" y="916.1" class="tk">18:00</text>
<text x="602.55" y="916.1" class="tk">22:00</text>
<text x="636.05" y="916.1" class="tk">02:00</text>
<text x="669.55" y="916.1" class="tk">06:00</text>
<text x="703.05" y="916.1" class="tk">10:00</text>
<polyline points="551.34,896.17 552.45,893.39 553.79,892.27 554.9,890.05 556.01,888.93 556.9,890.6 558.02,894.5 559.13,897.28 561.02,898.17 562.69,898.95 564.36,899.28 566.03,898.95 567.14,900.62 568.03,900.39 568.81,894.5 569.59,891.72 570.48,892.27 571.15,899.5 572.15,900.62 573.82,900.62 574.71,900.06 575.48,895.61 576.6,894.5 577.71,890.6 578.82,887.82 579.93,890.6 581.05,891.72 582.16,893.94 583.27,891.94 584.05,892.27 584.94,896.72 585.83,898.39 586.94,896.72 588.06,897.84 589.17,897.06 590.28,897.84 591.39,900.06 592.51,895.05 593.4,888.38 594.4,887.82 595.51,888.16 596.62,886.15 597.74,885.04 599.18,884.82 600.52,886.15 601.63,886.71 602.74,885.04 603.86,885.26 604.75,887.27 605.86,885.04 606.08,900.62 606.53,900.62 606.75,883.93 607.75,881.15 608.86,883.37 609.98,884.15 611.09,883.71 612.2,881.15 612.98,877.25 613.87,877.03 614.76,882.82 615.87,885.6 617.21,883.93 618.32,886.15 619.43,882.82 620.55,884.48 621.66,880.59 622.77,880.03 623.88,883.37 625.22,884.48 626,887.27 627.34,887.82 628.45,882.82 629.56,881.15 630.67,881.7 631.56,885.6 632.68,888.93 633.79,885.6 634.9,886.15 636.01,890.6 636.9,893.39 638.02,888.38 638.8,884.48 639.57,885.04 640.46,892.83 641.58,890.6 642.69,887.82 644.36,886.71 645.8,883.93 647.14,883.37 648.81,882.26 649.92,886.71 651.03,880.59 652.15,878.92 653.26,884.48 654.37,880.81 655.48,885.04 656.6,887.82 658.27,887.82 658.93,880.59 659.93,877.81 661.05,878.36 662.49,879.48 663.83,878.92 665.16,878.92 666.61,881.15 667.39,886.71 668.06,888.93 669.39,886.71 670.5,885.04 672.17,885.6 673.29,883.37 674.96,883.04 676.62,882.59 677.74,885.04 679.18,886.38 680.52,885.93 681.85,884.48 683.3,882.82 684.75,880.81 685.86,881.15 686.97,883.93 688.31,881.7 689.98,882.26 691.64,882.82 692.76,884.48 693.87,887.27 695.2,887.82 696.32,885.04 697.76,884.48 698.56,883.23 699.72,882.07 701.04,887.48 702.43,885.94 703.98,888.64 705.52,887.48 706.68,882.07 707.69,881.3 708.77,888.26" fill="none" stroke="#000" stroke-width="1.9" stroke-linejoin="round" stroke-linecap="butt"/>
<text transform="translate(525 865) rotate(-90)" text-anchor="middle" class="yl">Firing rates (Hz)</text>
<text x="492.5" y="826" class="tag">C8</text>
<path d="M80 233.3V322.9 M80 269.1H214.7" fill="none" stroke="#000" stroke-width="2.5" stroke-linecap="square"/>
<text transform="translate(73.3 236.9) scale(1.08 1)" text-anchor="end" class="tw">0.08</text>
<text transform="translate(73.3 254.82) scale(1.08 1)" text-anchor="end" class="tw">0.04</text>
<text transform="translate(73.3 272.74) scale(1.08 1)" text-anchor="end" class="tw">0.00</text>
<text transform="translate(73.3 290.66) scale(0.995 1)" text-anchor="end" class="tw">-0.04</text>
<text transform="translate(73.3 308.58) scale(0.995 1)" text-anchor="end" class="tw">-0.08</text>
<text transform="translate(73.3 326.5) scale(0.995 1)" text-anchor="end" class="tw">-0.12</text>
<path d="M80 269.1v4.3M124.9 269.1v4.3M169.8 269.1v4.3M214.7 269.1v4.3" fill="none" stroke="#000" stroke-width="2"/>
<path d="M84.49 269.1v2.9M88.98 269.1v2.9M93.47 269.1v2.9M97.96 269.1v2.9M102.45 269.1v2.9M106.94 269.1v2.9M111.43 269.1v2.9M115.92 269.1v2.9M120.41 269.1v2.9M129.39 269.1v2.9M133.88 269.1v2.9M138.37 269.1v2.9M142.86 269.1v2.9M147.35 269.1v2.9M151.84 269.1v2.9M156.33 269.1v2.9M160.82 269.1v2.9M165.31 269.1v2.9M174.29 269.1v2.9M178.78 269.1v2.9M183.27 269.1v2.9M187.76 269.1v2.9M192.25 269.1v2.9M196.74 269.1v2.9M201.23 269.1v2.9M205.72 269.1v2.9M210.21 269.1v2.9" fill="none" stroke="#000" stroke-width="1.5"/>
<path d="M80 233.3h-3.3M80 251.22h-2.6M80 269.14h-2.6M80 287.06h-2.6M80 304.98h-2.6M80 322.9h-3.3" fill="none" stroke="#000" stroke-width="2"/>
<path d="M80 242.26h-1.9M80 260.18h-1.9M80 278.1h-1.9M80 296.02h-1.9M80 313.94h-1.9" fill="none" stroke="#000" stroke-width="1.4"/>
<text x="124.9" y="283.8" text-anchor="middle" class="tk">0.5</text>
<text x="170.5" y="283.8" text-anchor="middle" class="tk">1.0</text>
<text x="216.8" y="283.8" text-anchor="middle" class="tk">1.5</text>
<text x="161.5" y="305" text-anchor="middle" class="tm">Time (ms)</text>
<polyline points="80,268.2 81.87,268.31 83.74,268.5 85.61,268.75 87.49,269.06 89.36,269.4 91.23,269.76 93.1,270.2 94.97,270.75 96.84,271.46 98.72,272.38 100.59,274 102.46,276.25 104.33,278.85 106.2,282.21 108.07,286.23 109.95,290.44 111.82,295.32 113.69,299.59 115.56,302.16 117.03,300.11 118.51,297.13 119.98,293.31 121.45,289.59 122.93,286.11 124.4,282.67 125.87,279.45 127.35,276.64 128.82,274.09 130.29,271.78 131.77,269.78 133.24,268.13 134.71,266.61 136.19,265.29 137.66,264.23 139.13,263.51 140.61,262.93 142.08,262.42 143.55,262.03 145.03,261.77 146.5,261.62 147.97,261.5 149.45,261.4 150.92,261.32 152.39,261.27 153.87,261.26 155.34,261.29 156.81,261.35 158.29,261.45 159.76,261.56 161.23,261.69 162.71,261.82 164.18,261.95 165.65,262.09 167.13,262.25 168.6,262.42 170.07,262.6 171.55,262.8 173.02,262.99 174.49,263.19 175.97,263.39 177.44,263.59 178.91,263.81 180.39,264.03 181.86,264.26 183.33,264.49 184.81,264.71 186.28,264.94 187.75,265.15 189.23,265.36 190.7,265.56 192.17,265.76 193.65,265.95 195.12,266.14 196.59,266.33 198.07,266.51 199.54,266.69 201.01,266.87 202.49,267.04" fill="none" stroke="#000" stroke-width="2.4" stroke-linejoin="round" stroke-linecap="butt"/>
<text transform="translate(45.3 277.3) rotate(-90)" text-anchor="middle" class="wl">Waveform value (mV)</text>
<text x="3.6" y="234" class="tag">A3</text>
<path d="M320.9 233.3V322.9 M320.9 269.1H456.6" fill="none" stroke="#000" stroke-width="2.5" stroke-linecap="square"/>
<text transform="translate(314.2 236.9) scale(1.08 1)" text-anchor="end" class="tw">0.08</text>
<text transform="translate(314.2 254.82) scale(1.08 1)" text-anchor="end" class="tw">0.04</text>
<text transform="translate(314.2 272.74) scale(1.08 1)" text-anchor="end" class="tw">0.00</text>
<text transform="translate(314.2 290.66) scale(0.995 1)" text-anchor="end" class="tw">-0.04</text>
<text transform="translate(314.2 308.58) scale(0.995 1)" text-anchor="end" class="tw">-0.08</text>
<text transform="translate(314.2 326.5) scale(0.995 1)" text-anchor="end" class="tw">-0.12</text>
<path d="M320.9 269.1v4.3M366.13 269.1v4.3M411.37 269.1v4.3M456.6 269.1v4.3" fill="none" stroke="#000" stroke-width="2"/>
<path d="M325.42 269.1v2.9M329.95 269.1v2.9M334.47 269.1v2.9M338.99 269.1v2.9M343.52 269.1v2.9M348.04 269.1v2.9M352.56 269.1v2.9M357.09 269.1v2.9M361.61 269.1v2.9M370.66 269.1v2.9M375.18 269.1v2.9M379.7 269.1v2.9M384.23 269.1v2.9M388.75 269.1v2.9M393.27 269.1v2.9M397.8 269.1v2.9M402.32 269.1v2.9M406.84 269.1v2.9M415.89 269.1v2.9M420.41 269.1v2.9M424.94 269.1v2.9M429.46 269.1v2.9M433.98 269.1v2.9M438.51 269.1v2.9M443.03 269.1v2.9M447.55 269.1v2.9M452.08 269.1v2.9" fill="none" stroke="#000" stroke-width="1.5"/>
<path d="M320.9 233.3h-3.3M320.9 251.22h-2.6M320.9 269.14h-2.6M320.9 287.06h-2.6M320.9 304.98h-2.6M320.9 322.9h-3.3" fill="none" stroke="#000" stroke-width="2"/>
<path d="M320.9 242.26h-1.9M320.9 260.18h-1.9M320.9 278.1h-1.9M320.9 296.02h-1.9M320.9 313.94h-1.9" fill="none" stroke="#000" stroke-width="1.4"/>
<text x="366.13" y="283.8" text-anchor="middle" class="tk">0.5</text>
<text x="412.07" y="283.8" text-anchor="middle" class="tk">1.0</text>
<text x="458.7" y="283.8" text-anchor="middle" class="tk">1.5</text>
<text x="402.7" y="305" text-anchor="middle" class="tm">Time (ms)</text>
<polyline points="320.9,268.2 322.8,268.32 324.71,268.54 326.61,268.85 328.52,269.21 330.42,269.61 332.33,270.1 334.23,270.72 336.14,271.49 338.04,272.41 339.95,273.5 341.85,275.09 343.75,277.18 345.66,279.7 347.56,283.2 349.47,287.37 351.37,291.57 353.28,296.12 355.18,300.16 357.09,303.06 358.57,301.05 360.05,298.13 361.53,294.12 363.01,289.89 364.49,286.19 365.96,282.53 367.44,279.09 368.92,276.15 370.4,273.85 371.88,271.92 373.36,270.23 374.84,268.71 376.32,267.28 377.8,265.95 379.28,264.78 380.76,263.79 382.24,262.95 383.72,262.15 385.2,261.44 386.68,260.84 388.16,260.37 389.64,260.07 391.12,259.82 392.6,259.59 394.08,259.41 395.56,259.29 397.04,259.24 398.52,259.29 400,259.43 401.48,259.64 402.96,259.88 404.44,260.14 405.92,260.39 407.4,260.63 408.88,260.9 410.35,261.18 411.83,261.48 413.31,261.8 414.79,262.12 416.27,262.43 417.75,262.75 419.23,263.05 420.71,263.34 422.19,263.63 423.67,263.92 425.15,264.21 426.63,264.49 428.11,264.77 429.59,265.05 431.07,265.32 432.55,265.58 434.03,265.84 435.51,266.08 436.99,266.33 438.47,266.56 439.95,266.79 441.43,267.01 442.91,267.23 444.39,267.44" fill="none" stroke="#000" stroke-width="2.4" stroke-linejoin="round" stroke-linecap="butt"/>
<text transform="translate(286 277.3) rotate(-90)" text-anchor="middle" class="wl">Waveform value (mV)</text>
<text x="252.5" y="234.5" class="tag">A6</text>
<path d="M562.8 233.3V322.9 M562.8 269.1H698.5" fill="none" stroke="#000" stroke-width="2.5" stroke-linecap="square"/>
<text transform="translate(556.1 236.9) scale(1.08 1)" text-anchor="end" class="tw">0.08</text>
<text transform="translate(556.1 254.82) scale(1.08 1)" text-anchor="end" class="tw">0.04</text>
<text transform="translate(556.1 272.74) scale(1.08 1)" text-anchor="end" class="tw">0.00</text>
<text transform="translate(556.1 290.66) scale(0.995 1)" text-anchor="end" class="tw">-0.04</text>
<text transform="translate(556.1 308.58) scale(0.995 1)" text-anchor="end" class="tw">-0.08</text>
<text transform="translate(556.1 326.5) scale(0.995 1)" text-anchor="end" class="tw">-0.12</text>
<path d="M562.8 269.1v4.3M608.03 269.1v4.3M653.27 269.1v4.3M698.5 269.1v4.3" fill="none" stroke="#000" stroke-width="2"/>
<path d="M567.32 269.1v2.9M571.85 269.1v2.9M576.37 269.1v2.9M580.89 269.1v2.9M585.42 269.1v2.9M589.94 269.1v2.9M594.46 269.1v2.9M598.99 269.1v2.9M603.51 269.1v2.9M612.56 269.1v2.9M617.08 269.1v2.9M621.6 269.1v2.9M626.13 269.1v2.9M630.65 269.1v2.9M635.17 269.1v2.9M639.7 269.1v2.9M644.22 269.1v2.9M648.74 269.1v2.9M657.79 269.1v2.9M662.31 269.1v2.9M666.84 269.1v2.9M671.36 269.1v2.9M675.88 269.1v2.9M680.41 269.1v2.9M684.93 269.1v2.9M689.45 269.1v2.9M693.98 269.1v2.9" fill="none" stroke="#000" stroke-width="1.5"/>
<path d="M562.8 233.3h-3.3M562.8 251.22h-2.6M562.8 269.14h-2.6M562.8 287.06h-2.6M562.8 304.98h-2.6M562.8 322.9h-3.3" fill="none" stroke="#000" stroke-width="2"/>
<path d="M562.8 242.26h-1.9M562.8 260.18h-1.9M562.8 278.1h-1.9M562.8 296.02h-1.9M562.8 313.94h-1.9" fill="none" stroke="#000" stroke-width="1.4"/>
<text x="608.03" y="283.8" text-anchor="middle" class="tk">0.5</text>
<text x="653.97" y="283.8" text-anchor="middle" class="tk">1.0</text>
<text x="700.6" y="283.8" text-anchor="middle" class="tk">1.5</text>
<text x="644.7" y="305" text-anchor="middle" class="tm">Time (ms)</text>
<polyline points="562.8,268.2 564.7,268.31 566.59,268.54 568.49,268.84 570.38,269.21 572.28,269.6 574.17,270.08 576.07,270.7 577.96,271.46 579.86,272.36 581.75,273.44 583.65,275 585.54,277.06 587.44,279.5 589.33,282.78 591.23,286.72 593.12,290.77 595.02,295.23 596.91,299.16 598.81,301.89 600.29,299.74 601.77,296.77 603.25,292.91 604.74,288.89 606.22,285.36 607.7,281.93 609.18,278.7 610.67,275.91 612.15,273.71 613.63,271.87 615.12,270.28 616.6,268.88 618.08,267.57 619.56,266.36 621.05,265.32 622.53,264.51 624.01,263.89 625.49,263.32 626.98,262.82 628.46,262.42 629.94,262.15 631.43,262.04 632.91,261.98 634.39,261.92 635.87,261.88 637.36,261.85 638.84,261.84 640.32,261.87 641.8,261.95 643.29,262.06 644.77,262.21 646.25,262.36 647.74,262.51 649.22,262.66 650.7,262.83 652.18,263.01 653.67,263.21 655.15,263.42 656.63,263.63 658.12,263.84 659.6,264.06 661.08,264.26 662.56,264.47 664.05,264.67 665.53,264.88 667.01,265.08 668.49,265.29 669.98,265.5 671.46,265.7 672.94,265.9 674.43,266.1 675.91,266.28 677.39,266.46 678.87,266.63 680.36,266.8 681.84,266.97 683.32,267.13 684.8,267.29 686.29,267.44" fill="none" stroke="#000" stroke-width="2.4" stroke-linejoin="round" stroke-linecap="butt"/>
<text transform="translate(531 277.3) rotate(-90)" text-anchor="middle" class="wl">Waveform value (mV)</text>
<text x="497.2" y="234.5" class="tag">A9</text>
<path d="M79.9 591.2V677.5 M79.9 625.8H210.4" fill="none" stroke="#000" stroke-width="2.5" stroke-linecap="square"/>
<text transform="translate(73.2 594.8) scale(1.08 1)" text-anchor="end" class="tw">0.08</text>
<text transform="translate(73.2 612.06) scale(1.08 1)" text-anchor="end" class="tw">0.04</text>
<text transform="translate(73.2 629.32) scale(1.08 1)" text-anchor="end" class="tw">0.00</text>
<text transform="translate(73.2 646.58) scale(0.995 1)" text-anchor="end" class="tw">-0.04</text>
<text transform="translate(73.2 663.84) scale(0.995 1)" text-anchor="end" class="tw">-0.08</text>
<text transform="translate(73.2 681.1) scale(0.995 1)" text-anchor="end" class="tw">-0.12</text>
<path d="M79.9 625.8v4.3M123.4 625.8v4.3M166.9 625.8v4.3M210.4 625.8v4.3" fill="none" stroke="#000" stroke-width="2"/>
<path d="M84.25 625.8v2.9M88.6 625.8v2.9M92.95 625.8v2.9M97.3 625.8v2.9M101.65 625.8v2.9M106 625.8v2.9M110.35 625.8v2.9M114.7 625.8v2.9M119.05 625.8v2.9M127.75 625.8v2.9M132.1 625.8v2.9M136.45 625.8v2.9M140.8 625.8v2.9M145.15 625.8v2.9M149.5 625.8v2.9M153.85 625.8v2.9M158.2 625.8v2.9M162.55 625.8v2.9M171.25 625.8v2.9M175.6 625.8v2.9M179.95 625.8v2.9M184.3 625.8v2.9M188.65 625.8v2.9M193 625.8v2.9M197.35 625.8v2.9M201.7 625.8v2.9M206.05 625.8v2.9" fill="none" stroke="#000" stroke-width="1.5"/>
<path d="M79.9 591.2h-3.3M79.9 608.46h-2.6M79.9 625.72h-2.6M79.9 642.98h-2.6M79.9 660.24h-2.6M79.9 677.5h-3.3" fill="none" stroke="#000" stroke-width="2"/>
<path d="M79.9 599.83h-1.9M79.9 617.09h-1.9M79.9 634.35h-1.9M79.9 651.61h-1.9M79.9 668.87h-1.9" fill="none" stroke="#000" stroke-width="1.4"/>
<text x="122.7" y="639.8" text-anchor="middle" class="tk">0.5</text>
<text x="165.8" y="639.8" text-anchor="middle" class="tk">1.0</text>
<text x="209.8" y="639.8" text-anchor="middle" class="tk">1.5</text>
<text x="158.7" y="660.7" text-anchor="middle" class="tm">Time (ms)</text>
<polyline points="79.9,624.88 83.83,625.8 87.3,626.72 90.78,625.8 94.25,626.95 97.72,626.03 101.19,627.18 104.2,628.1 107.43,633.16 115.07,658.71 122.47,637.31 128.95,626.26 133.58,620.74 137.51,620.28 140.52,617.75 143.3,618.9 147,616.59 150.24,618.21 153.25,617.05 156.72,618.9 159.5,617.98 162.97,619.59 165.97,618.67 169.45,620.51 172.45,619.59 175.69,621.2 178.7,620.28 182.17,621.89 185.18,620.97 188.65,622.81 191.43,621.89 194.9,623.73 197.91,622.81 198.37,624.19" fill="none" stroke="#000" stroke-width="2.4" stroke-linejoin="round" stroke-linecap="butt"/>
<text transform="translate(45.2 635) rotate(-90)" text-anchor="middle" class="wl">Waveform value (mV)</text>
<text x="3.6" y="592" class="tag">B3</text>
<path d="M321.2 591.2V677.5 M321.2 625.8H451.1" fill="none" stroke="#000" stroke-width="2.5" stroke-linecap="square"/>
<text transform="translate(314.5 594.8) scale(1.08 1)" text-anchor="end" class="tw">0.08</text>
<text transform="translate(314.5 612.06) scale(1.08 1)" text-anchor="end" class="tw">0.04</text>
<text transform="translate(314.5 629.32) scale(1.08 1)" text-anchor="end" class="tw">0.00</text>
<text transform="translate(314.5 646.58) scale(0.995 1)" text-anchor="end" class="tw">-0.04</text>
<text transform="translate(314.5 663.84) scale(0.995 1)" text-anchor="end" class="tw">-0.08</text>
<text transform="translate(314.5 681.1) scale(0.995 1)" text-anchor="end" class="tw">-0.12</text>
<path d="M321.2 625.8v4.3M364.5 625.8v4.3M407.8 625.8v4.3M451.1 625.8v4.3" fill="none" stroke="#000" stroke-width="2"/>
<path d="M325.53 625.8v2.9M329.86 625.8v2.9M334.19 625.8v2.9M338.52 625.8v2.9M342.85 625.8v2.9M347.18 625.8v2.9M351.51 625.8v2.9M355.84 625.8v2.9M360.17 625.8v2.9M368.83 625.8v2.9M373.16 625.8v2.9M377.49 625.8v2.9M381.82 625.8v2.9M386.15 625.8v2.9M390.48 625.8v2.9M394.81 625.8v2.9M399.14 625.8v2.9M403.47 625.8v2.9M412.13 625.8v2.9M416.46 625.8v2.9M420.79 625.8v2.9M425.12 625.8v2.9M429.45 625.8v2.9M433.78 625.8v2.9M438.11 625.8v2.9M442.44 625.8v2.9M446.77 625.8v2.9" fill="none" stroke="#000" stroke-width="1.5"/>
<path d="M321.2 591.2h-3.3M321.2 608.46h-2.6M321.2 625.72h-2.6M321.2 642.98h-2.6M321.2 660.24h-2.6M321.2 677.5h-3.3" fill="none" stroke="#000" stroke-width="2"/>
<path d="M321.2 599.83h-1.9M321.2 617.09h-1.9M321.2 634.35h-1.9M321.2 651.61h-1.9M321.2 668.87h-1.9" fill="none" stroke="#000" stroke-width="1.4"/>
<text x="363" y="639.8" text-anchor="middle" class="tk">0.5</text>
<text x="408.5" y="639.8" text-anchor="middle" class="tk">1.0</text>
<text x="453.2" y="639.8" text-anchor="middle" class="tk">1.5</text>
<text x="401.7" y="660.7" text-anchor="middle" class="tm">Time (ms)</text>
<polyline points="321.2,624.88 324.89,626.26 327.2,628.1 329.97,625.8 332.74,628.56 335.74,626.26 338.51,629.02 341.04,626.72 343.81,631.55 347.27,635.01 355.58,658.71 362.73,638.46 368.73,626.95 371.96,624.65 375.66,618.9 378.43,619.36 381.19,616.13 384.19,618.9 387.19,616.13 390.42,619.36 393.42,617.05 396.42,620.05 399.19,617.75 402.19,620.74 405.19,618.44 407.96,621.66 410.73,619.36 413.73,622.35 416.5,620.28 419.5,623.5 422.27,621.2 425.27,624.42 428.04,622.12 431.04,625.34 433.81,623.04 436.11,625.8 438.42,623.96 439.11,624.88" fill="none" stroke="#000" stroke-width="2.4" stroke-linejoin="round" stroke-linecap="butt"/>
<text transform="translate(286 635) rotate(-90)" text-anchor="middle" class="wl">Waveform value (mV)</text>
<text x="252.5" y="592" class="tag">B6</text>
<path d="M563.2 591.2V677.5 M563.2 625.8H693.1" fill="none" stroke="#000" stroke-width="2.5" stroke-linecap="square"/>
<text transform="translate(556.5 594.8) scale(1.08 1)" text-anchor="end" class="tw">0.08</text>
<text transform="translate(556.5 612.06) scale(1.08 1)" text-anchor="end" class="tw">0.04</text>
<text transform="translate(556.5 629.32) scale(1.08 1)" text-anchor="end" class="tw">0.00</text>
<text transform="translate(556.5 646.58) scale(0.995 1)" text-anchor="end" class="tw">-0.04</text>
<text transform="translate(556.5 663.84) scale(0.995 1)" text-anchor="end" class="tw">-0.08</text>
<text transform="translate(556.5 681.1) scale(0.995 1)" text-anchor="end" class="tw">-0.12</text>
<path d="M563.2 625.8v4.3M606.5 625.8v4.3M649.8 625.8v4.3M693.1 625.8v4.3" fill="none" stroke="#000" stroke-width="2"/>
<path d="M567.53 625.8v2.9M571.86 625.8v2.9M576.19 625.8v2.9M580.52 625.8v2.9M584.85 625.8v2.9M589.18 625.8v2.9M593.51 625.8v2.9M597.84 625.8v2.9M602.17 625.8v2.9M610.83 625.8v2.9M615.16 625.8v2.9M619.49 625.8v2.9M623.82 625.8v2.9M628.15 625.8v2.9M632.48 625.8v2.9M636.81 625.8v2.9M641.14 625.8v2.9M645.47 625.8v2.9M654.13 625.8v2.9M658.46 625.8v2.9M662.79 625.8v2.9M667.12 625.8v2.9M671.45 625.8v2.9M675.78 625.8v2.9M680.11 625.8v2.9M684.44 625.8v2.9M688.77 625.8v2.9" fill="none" stroke="#000" stroke-width="1.5"/>
<path d="M563.2 591.2h-3.3M563.2 608.46h-2.6M563.2 625.72h-2.6M563.2 642.98h-2.6M563.2 660.24h-2.6M563.2 677.5h-3.3" fill="none" stroke="#000" stroke-width="2"/>
<path d="M563.2 599.83h-1.9M563.2 617.09h-1.9M563.2 634.35h-1.9M563.2 651.61h-1.9M563.2 668.87h-1.9" fill="none" stroke="#000" stroke-width="1.4"/>
<text x="605.5" y="639.8" text-anchor="middle" class="tk">0.5</text>
<text x="650.5" y="639.8" text-anchor="middle" class="tk">1.0</text>
<text x="695.2" y="639.8" text-anchor="middle" class="tk">1.5</text>
<text x="643.7" y="660.7" text-anchor="middle" class="tm">Time (ms)</text>
<polyline points="563.2,625.8 565.02,625.86 566.84,625.94 568.67,626.04 570.49,626.16 572.31,626.28 574.13,626.41 575.95,626.57 577.77,626.78 579.6,627.1 581.42,627.71 583.24,628.63 585.06,630.15 586.88,632.6 588.7,636.01 590.53,641.05 592.35,646.71 594.17,653.23 595.99,657.8 597.81,660.78 599.23,658.66 600.65,655.54 602.07,650.85 603.49,645.34 604.91,640.4 606.33,635.58 607.75,631.51 609.17,628.34 610.59,625.67 612.01,623.32 613.43,621.13 614.85,619.36 616.27,618.16 617.69,617.17 619.11,616.39 620.53,615.88 621.95,615.5 623.37,615.19 624.79,615.01 626.21,615 627.63,615.14 629.05,615.36 630.47,615.61 631.88,615.88 633.3,616.21 634.72,616.58 636.14,616.98 637.56,617.38 638.98,617.77 640.4,618.16 641.82,618.57 643.24,618.98 644.66,619.38 646.08,619.77 647.5,620.13 648.92,620.46 650.34,620.77 651.76,621.07 653.18,621.36 654.6,621.63 656.02,621.89 657.44,622.13 658.86,622.37 660.28,622.6 661.7,622.83 663.12,623.04 664.54,623.24 665.96,623.42 667.38,623.59 668.8,623.75 670.22,623.9 671.64,624.04 673.06,624.17 674.48,624.3 675.9,624.43 677.32,624.55 678.73,624.66 680.15,624.77 681.57,624.88" fill="none" stroke="#000" stroke-width="3.0" stroke-linejoin="round" stroke-linecap="butt"/>
<text transform="translate(530 635) rotate(-90)" text-anchor="middle" class="wl">Waveform value (mV)</text>
<text x="492.5" y="592" class="tag">B9</text>
<path d="M78.9 943.1V1025.6 M78.9 976.05H202.6" fill="none" stroke="#000" stroke-width="2.5" stroke-linecap="square"/>
<text transform="translate(72.2 946.7) scale(1.08 1)" text-anchor="end" class="tw">0.08</text>
<text transform="translate(72.2 963.2) scale(1.08 1)" text-anchor="end" class="tw">0.04</text>
<text transform="translate(72.2 979.7) scale(1.08 1)" text-anchor="end" class="tw">0.00</text>
<text transform="translate(72.2 996.2) scale(0.995 1)" text-anchor="end" class="tw">-0.04</text>
<text transform="translate(72.2 1012.7) scale(0.995 1)" text-anchor="end" class="tw">-0.08</text>
<text transform="translate(72.2 1029.2) scale(0.995 1)" text-anchor="end" class="tw">-0.12</text>
<path d="M78.9 976.05v4.3M120.13 976.05v4.3M161.37 976.05v4.3M202.6 976.05v4.3" fill="none" stroke="#000" stroke-width="2"/>
<path d="M83.02 976.05v2.9M87.15 976.05v2.9M91.27 976.05v2.9M95.39 976.05v2.9M99.52 976.05v2.9M103.64 976.05v2.9M107.76 976.05v2.9M111.89 976.05v2.9M116.01 976.05v2.9M124.26 976.05v2.9M128.38 976.05v2.9M132.5 976.05v2.9M136.63 976.05v2.9M140.75 976.05v2.9M144.87 976.05v2.9M149 976.05v2.9M153.12 976.05v2.9M157.24 976.05v2.9M165.49 976.05v2.9M169.61 976.05v2.9M173.74 976.05v2.9M177.86 976.05v2.9M181.98 976.05v2.9M186.11 976.05v2.9M190.23 976.05v2.9M194.35 976.05v2.9M198.48 976.05v2.9" fill="none" stroke="#000" stroke-width="1.5"/>
<path d="M78.9 943.1h-3.3M78.9 959.6h-2.6M78.9 976.1h-2.6M78.9 992.6h-2.6M78.9 1009.1h-2.6M78.9 1025.6h-3.3" fill="none" stroke="#000" stroke-width="2"/>
<path d="M78.9 951.35h-1.9M78.9 967.85h-1.9M78.9 984.35h-1.9M78.9 1000.85h-1.9M78.9 1017.35h-1.9" fill="none" stroke="#000" stroke-width="1.4"/>
<text x="119.03" y="988.55" text-anchor="middle" class="tk">0.5</text>
<text x="160.57" y="988.55" text-anchor="middle" class="tk">1.0</text>
<text x="203" y="988.55" text-anchor="middle" class="tk">1.5</text>
<text x="156" y="1009.95" text-anchor="middle" class="tm">Time (ms)</text>
<polyline points="78.9,975.13 80.64,975.44 82.37,975.76 84.11,976.06 85.85,976.36 87.59,976.64 89.32,976.91 91.06,977.21 92.8,977.54 94.53,977.89 96.27,978.3 98.01,978.8 99.75,979.43 101.48,980.3 103.22,981.66 104.96,984.4 106.69,988.37 108.43,994.47 110.17,1000.64 111.91,1004.67 113.25,1002.44 114.6,997.89 115.95,992.92 117.3,988.26 118.65,984.36 120,981.06 121.35,978.46 122.7,976.37 124.05,974.72 125.4,973.56 126.75,972.63 128.1,971.89 129.45,971.35 130.8,970.91 132.15,970.54 133.5,970.25 134.85,970.06 136.2,969.96 137.55,969.87 138.9,969.83 140.25,969.83 141.6,969.94 142.95,970.13 144.3,970.34 145.65,970.55 147,970.79 148.34,971.06 149.69,971.34 151.04,971.64 152.39,971.92 153.74,972.19 155.09,972.47 156.44,972.75 157.79,973.03 159.14,973.3 160.49,973.56 161.84,973.8 163.19,974.03 164.54,974.26 165.89,974.48 167.24,974.68 168.59,974.87 169.94,975.04 171.29,975.18 172.64,975.31 173.99,975.43 175.34,975.55 176.69,975.65 178.04,975.73 179.39,975.8 180.74,975.84 182.09,975.88 183.44,975.92 184.78,975.96 186.13,975.99 187.48,976.01 188.83,976.03 190.18,976.05 191.53,976.05" fill="none" stroke="#000" stroke-width="2.4" stroke-linejoin="round" stroke-linecap="butt"/>
<text transform="translate(44.5 985) rotate(-90)" text-anchor="middle" class="wl">Waveform value (mV)</text>
<text x="3.6" y="936.3" class="tag">C3</text>
<path d="M318.45 943.1V1025.6 M318.45 976.05H442.3" fill="none" stroke="#000" stroke-width="2.5" stroke-linecap="square"/>
<text transform="translate(311.75 946.7) scale(1.08 1)" text-anchor="end" class="tw">0.08</text>
<text transform="translate(311.75 963.2) scale(1.08 1)" text-anchor="end" class="tw">0.04</text>
<text transform="translate(311.75 979.7) scale(1.08 1)" text-anchor="end" class="tw">0.00</text>
<text transform="translate(311.75 996.2) scale(0.995 1)" text-anchor="end" class="tw">-0.04</text>
<text transform="translate(311.75 1012.7) scale(0.995 1)" text-anchor="end" class="tw">-0.08</text>
<text transform="translate(311.75 1029.2) scale(0.995 1)" text-anchor="end" class="tw">-0.12</text>
<path d="M318.45 976.05v4.3M359.73 976.05v4.3M401.02 976.05v4.3M442.3 976.05v4.3" fill="none" stroke="#000" stroke-width="2"/>
<path d="M322.58 976.05v2.9M326.71 976.05v2.9M330.83 976.05v2.9M334.96 976.05v2.9M339.09 976.05v2.9M343.22 976.05v2.9M347.35 976.05v2.9M351.48 976.05v2.9M355.61 976.05v2.9M363.86 976.05v2.9M367.99 976.05v2.9M372.12 976.05v2.9M376.25 976.05v2.9M380.38 976.05v2.9M384.5 976.05v2.9M388.63 976.05v2.9M392.76 976.05v2.9M396.89 976.05v2.9M405.14 976.05v2.9M409.27 976.05v2.9M413.4 976.05v2.9M417.53 976.05v2.9M421.66 976.05v2.9M425.79 976.05v2.9M429.92 976.05v2.9M434.04 976.05v2.9M438.17 976.05v2.9" fill="none" stroke="#000" stroke-width="1.5"/>
<path d="M318.45 943.1h-3.3M318.45 959.6h-2.6M318.45 976.1h-2.6M318.45 992.6h-2.6M318.45 1009.1h-2.6M318.45 1025.6h-3.3" fill="none" stroke="#000" stroke-width="2"/>
<path d="M318.45 951.35h-1.9M318.45 967.85h-1.9M318.45 984.35h-1.9M318.45 1000.85h-1.9M318.45 1017.35h-1.9" fill="none" stroke="#000" stroke-width="1.4"/>
<text x="359.23" y="988.55" text-anchor="middle" class="tk">0.5</text>
<text x="401.22" y="988.55" text-anchor="middle" class="tk">1.0</text>
<text x="443.9" y="988.55" text-anchor="middle" class="tk">1.5</text>
<text x="397.35" y="1009.95" text-anchor="middle" class="tm">Time (ms)</text>
<polyline points="318.45,973.74 320.21,974.41 321.97,975.12 323.73,975.88 325.49,976.68 327.25,977.53 329.01,978.46 330.77,979.49 332.53,980.61 334.29,981.83 336.05,983.13 337.81,984.55 339.57,986.12 341.33,987.94 343.09,990.08 344.85,992.49 346.61,995.23 348.37,998.32 350.13,1001.94 351.89,1004.67 353.24,1002.43 354.59,999.07 355.94,995.23 357.29,992.09 358.63,989.33 359.98,986.86 361.33,984.6 362.68,982.52 364.03,980.65 365.38,979.03 366.73,977.57 368.08,976.27 369.42,975.18 370.77,974.21 372.12,973.37 373.47,972.71 374.82,972.25 376.17,971.86 377.52,971.54 378.86,971.3 380.21,971.13 381.56,970.97 382.91,970.85 384.26,970.76 385.61,970.75 386.96,970.83 388.3,970.99 389.65,971.21 391,971.42 392.35,971.64 393.7,971.9 395.05,972.18 396.4,972.48 397.74,972.77 399.09,973.04 400.44,973.29 401.79,973.55 403.14,973.81 404.49,974.05 405.84,974.29 407.19,974.5 408.53,974.68 409.88,974.85 411.23,975.02 412.58,975.17 413.93,975.31 415.28,975.43 416.63,975.53 417.97,975.61 419.32,975.68 420.67,975.74 422.02,975.8 423.37,975.86 424.72,975.92 426.07,975.96 427.41,976 428.76,976.03 430.11,976.04 431.46,976.05" fill="none" stroke="#000" stroke-width="2.4" stroke-linejoin="round" stroke-linecap="butt"/>
<text transform="translate(286 985) rotate(-90)" text-anchor="middle" class="wl">Waveform value (mV)</text>
<text x="252.5" y="936.3" class="tag">C6</text>
<path d="M562.3 943.1V1025.6 M562.3 976.05H686.2" fill="none" stroke="#000" stroke-width="2.5" stroke-linecap="square"/>
<text transform="translate(555.6 946.7) scale(1.08 1)" text-anchor="end" class="tw">0.08</text>
<text transform="translate(555.6 963.2) scale(1.08 1)" text-anchor="end" class="tw">0.04</text>
<text transform="translate(555.6 979.7) scale(1.08 1)" text-anchor="end" class="tw">0.00</text>
<text transform="translate(555.6 996.2) scale(0.995 1)" text-anchor="end" class="tw">-0.04</text>
<text transform="translate(555.6 1012.7) scale(0.995 1)" text-anchor="end" class="tw">-0.08</text>
<text transform="translate(555.6 1029.2) scale(0.995 1)" text-anchor="end" class="tw">-0.12</text>
<path d="M562.3 976.05v4.3M603.6 976.05v4.3M644.9 976.05v4.3M686.2 976.05v4.3" fill="none" stroke="#000" stroke-width="2"/>
<path d="M566.43 976.05v2.9M570.56 976.05v2.9M574.69 976.05v2.9M578.82 976.05v2.9M582.95 976.05v2.9M587.08 976.05v2.9M591.21 976.05v2.9M595.34 976.05v2.9M599.47 976.05v2.9M607.73 976.05v2.9M611.86 976.05v2.9M615.99 976.05v2.9M620.12 976.05v2.9M624.25 976.05v2.9M628.38 976.05v2.9M632.51 976.05v2.9M636.64 976.05v2.9M640.77 976.05v2.9M649.03 976.05v2.9M653.16 976.05v2.9M657.29 976.05v2.9M661.42 976.05v2.9M665.55 976.05v2.9M669.68 976.05v2.9M673.81 976.05v2.9M677.94 976.05v2.9M682.07 976.05v2.9" fill="none" stroke="#000" stroke-width="1.5"/>
<path d="M562.3 943.1h-3.3M562.3 959.6h-2.6M562.3 976.1h-2.6M562.3 992.6h-2.6M562.3 1009.1h-2.6M562.3 1025.6h-3.3" fill="none" stroke="#000" stroke-width="2"/>
<path d="M562.3 951.35h-1.9M562.3 967.85h-1.9M562.3 984.35h-1.9M562.3 1000.85h-1.9M562.3 1017.35h-1.9" fill="none" stroke="#000" stroke-width="1.4"/>
<text x="603.6" y="988.55" text-anchor="middle" class="tk">0.5</text>
<text x="645.6" y="988.55" text-anchor="middle" class="tk">1.0</text>
<text x="688.3" y="988.55" text-anchor="middle" class="tk">1.5</text>
<text x="641.3" y="1009.95" text-anchor="middle" class="tm">Time (ms)</text>
<polyline points="562.3,975.59 564.04,975.76 565.77,975.96 567.51,976.19 569.25,976.44 570.98,976.72 572.72,977.01 574.46,977.36 576.19,977.78 577.93,978.33 579.67,979.08 581.4,980.04 583.14,981.25 584.87,982.99 586.61,985.21 588.35,988.06 590.08,991.8 591.82,996.68 593.56,1001.52 595.29,1004.9 596.64,1002.44 597.98,999 599.33,994.3 600.67,989.77 602.02,985.41 603.37,981.73 604.71,978.71 606.06,976.2 607.4,974.24 608.75,972.57 610.09,971.18 611.44,970.13 612.78,969.28 614.13,968.58 615.47,968.07 616.82,967.73 618.16,967.44 619.51,967.21 620.85,967.07 622.2,967.06 623.54,967.12 624.89,967.24 626.23,967.38 627.58,967.54 628.93,967.74 630.27,968 631.62,968.3 632.96,968.6 634.31,968.9 635.65,969.19 637,969.49 638.34,969.8 639.69,970.12 641.03,970.43 642.38,970.73 643.72,971.02 645.07,971.3 646.41,971.59 647.76,971.87 649.1,972.14 650.45,972.4 651.79,972.65 653.14,972.89 654.48,973.11 655.83,973.32 657.18,973.52 658.52,973.72 659.87,973.91 661.21,974.1 662.56,974.28 663.9,974.47 665.25,974.66 666.59,974.84 667.94,975.02 669.28,975.17 670.63,975.31 671.97,975.42 673.32,975.51 674.66,975.59" fill="none" stroke="#000" stroke-width="2.4" stroke-linejoin="round" stroke-linecap="butt"/>
<text transform="translate(531 985) rotate(-90)" text-anchor="middle" class="wl">Waveform value (mV)</text>
<text x="492.5" y="936.3" class="tag">C9</text>
</svg>
</body></html>
